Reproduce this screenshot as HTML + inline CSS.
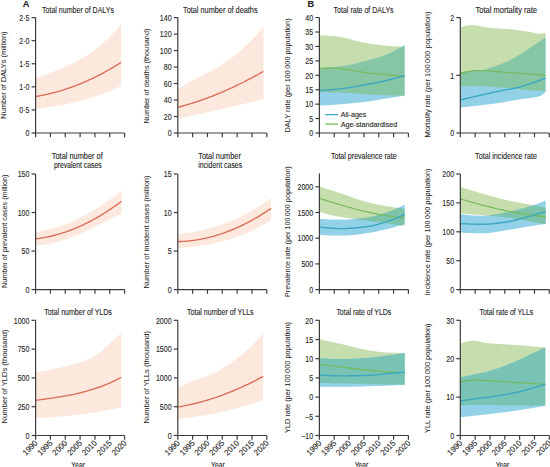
<!DOCTYPE html>
<html><head><meta charset="utf-8"><style>
html,body{margin:0;padding:0;background:#fff;}
body{width:550px;height:467px;overflow:hidden;}
svg{display:block;font-family:"Liberation Sans", sans-serif;}
</style></head><body>
<svg width="550" height="467" viewBox="0 0 550 467">
<rect width="550" height="467" fill="#fff"/>
<path d="M35.6,78.6L36.6,78.2L37.6,77.9L38.6,77.5L39.6,77.1L40.6,76.7L41.6,76.3L42.6,75.9L43.6,75.5L44.6,75.1L45.6,74.8L46.6,74.4L47.6,74.0L48.6,73.6L49.6,73.2L50.6,72.8L51.6,72.4L52.6,72.1L53.6,71.7L54.6,71.3L55.6,70.9L56.6,70.5L57.6,70.1L58.6,69.7L59.6,69.2L60.6,68.8L61.6,68.4L62.6,68.0L63.6,67.6L64.6,67.1L65.6,66.7L66.6,66.2L67.6,65.8L68.6,65.3L69.6,64.8L70.6,64.4L71.6,63.9L72.6,63.4L73.6,62.9L74.6,62.4L75.6,61.9L76.6,61.3L77.6,60.8L78.6,60.3L79.6,59.7L80.6,59.1L81.6,58.6L82.6,58.0L83.6,57.4L84.6,56.8L85.6,56.2L86.6,55.5L87.6,54.9L88.6,54.2L89.6,53.6L90.6,52.9L91.6,52.2L92.6,51.5L93.6,50.7L94.6,50.0L95.6,49.2L96.6,48.5L97.6,47.7L98.6,46.9L99.6,46.1L100.6,45.2L101.6,44.4L102.6,43.5L103.6,42.6L104.6,41.7L105.6,40.8L106.6,39.9L107.6,38.9L108.6,38.0L109.6,37.0L110.6,36.0L111.6,34.9L112.6,33.9L113.6,32.8L114.6,31.7L115.6,30.6L116.6,29.5L117.6,28.3L118.6,27.2L119.6,26.0L120.6,24.7L121.1,24.1L121.1,85.7L120.6,86.0L119.6,86.5L118.6,86.9L117.6,87.4L116.6,87.9L115.6,88.3L114.6,88.8L113.6,89.2L112.6,89.7L111.6,90.1L110.6,90.5L109.6,91.0L108.6,91.4L107.6,91.8L106.6,92.2L105.6,92.6L104.6,93.0L103.6,93.3L102.6,93.7L101.6,94.1L100.6,94.5L99.6,94.8L98.6,95.2L97.6,95.5L96.6,95.9L95.6,96.2L94.6,96.5L93.6,96.8L92.6,97.2L91.6,97.5L90.6,97.8L89.6,98.1L88.6,98.4L87.6,98.7L86.6,99.0L85.6,99.3L84.6,99.6L83.6,99.8L82.6,100.1L81.6,100.4L80.6,100.6L79.6,100.9L78.6,101.1L77.6,101.4L76.6,101.6L75.6,101.9L74.6,102.1L73.6,102.4L72.6,102.6L71.6,102.8L70.6,103.0L69.6,103.3L68.6,103.5L67.6,103.7L66.6,103.9L65.6,104.1L64.6,104.3L63.6,104.5L62.6,104.7L61.6,104.9L60.6,105.1L59.6,105.3L58.6,105.5L57.6,105.6L56.6,105.8L55.6,106.0L54.6,106.2L53.6,106.4L52.6,106.5L51.6,106.7L50.6,106.9L49.6,107.0L48.6,107.2L47.6,107.3L46.6,107.5L45.6,107.7L44.6,107.8L43.6,108.0L42.6,108.1L41.6,108.3L40.6,108.4L39.6,108.6L38.6,108.7L37.6,108.9L36.6,109.0L35.6,109.1Z" fill="#fce8dd"/>
<path d="M35.6,96.5L36.6,96.3L37.6,96.2L38.6,96.0L39.6,95.8L40.6,95.6L41.6,95.4L42.6,95.2L43.6,95.0L44.6,94.8L45.6,94.6L46.6,94.4L47.6,94.2L48.6,94.0L49.6,93.7L50.6,93.5L51.6,93.2L52.6,93.0L53.6,92.7L54.6,92.5L55.6,92.2L56.6,91.9L57.6,91.6L58.6,91.4L59.6,91.1L60.6,90.8L61.6,90.5L62.6,90.2L63.6,89.8L64.6,89.5L65.6,89.2L66.6,88.9L67.6,88.5L68.6,88.2L69.6,87.9L70.6,87.5L71.6,87.1L72.6,86.8L73.6,86.4L74.6,86.0L75.6,85.7L76.6,85.3L77.6,84.9L78.6,84.5L79.6,84.1L80.6,83.7L81.6,83.3L82.6,82.8L83.6,82.4L84.6,82.0L85.6,81.5L86.6,81.1L87.6,80.7L88.6,80.2L89.6,79.7L90.6,79.3L91.6,78.8L92.6,78.3L93.6,77.8L94.6,77.4L95.6,76.9L96.6,76.4L97.6,75.9L98.6,75.4L99.6,74.8L100.6,74.3L101.6,73.8L102.6,73.3L103.6,72.7L104.6,72.2L105.6,71.6L106.6,71.1L107.6,70.5L108.6,70.0L109.6,69.4L110.6,68.8L111.6,68.2L112.6,67.6L113.6,67.0L114.6,66.4L115.6,65.8L116.6,65.2L117.6,64.6L118.6,64.0L119.6,63.4L120.6,62.7L121.1,62.4" fill="none" stroke="#da6d57" stroke-width="1.35"/>
<path d="M177.8,89.5L178.8,88.8L179.8,88.2L180.8,87.5L181.8,86.9L182.8,86.2L183.8,85.6L184.8,84.9L185.8,84.3L186.8,83.7L187.8,83.1L188.8,82.5L189.8,81.9L190.8,81.3L191.8,80.8L192.8,80.2L193.8,79.7L194.8,79.2L195.8,78.6L196.8,78.1L197.8,77.6L198.8,77.1L199.8,76.7L200.8,76.2L201.8,75.7L202.8,75.2L203.8,74.7L204.8,74.2L205.8,73.7L206.8,73.2L207.8,72.7L208.8,72.2L209.8,71.6L210.8,71.1L211.8,70.5L212.8,70.0L213.8,69.4L214.8,68.9L215.8,68.3L216.8,67.7L217.8,67.2L218.8,66.6L219.8,66.0L220.8,65.4L221.8,64.8L222.8,64.1L223.8,63.5L224.8,62.8L225.8,62.2L226.8,61.5L227.8,60.8L228.8,60.1L229.8,59.4L230.8,58.6L231.8,57.9L232.8,57.1L233.8,56.3L234.8,55.6L235.8,54.7L236.8,53.9L237.8,53.1L238.8,52.3L239.8,51.4L240.8,50.5L241.8,49.7L242.8,48.8L243.8,47.9L244.8,47.0L245.8,46.0L246.8,45.1L247.8,44.1L248.8,43.2L249.8,42.2L250.8,41.2L251.8,40.2L252.8,39.1L253.8,38.1L254.8,37.0L255.8,36.0L256.8,34.9L257.8,33.8L258.8,32.7L259.8,31.6L260.8,30.4L261.8,29.3L262.8,28.1L263.5,27.3L263.5,99.1L262.8,99.3L261.8,99.5L260.8,99.8L259.8,100.0L258.8,100.3L257.8,100.5L256.8,100.7L255.8,101.0L254.8,101.2L253.8,101.5L252.8,101.7L251.8,102.0L250.8,102.2L249.8,102.4L248.8,102.7L247.8,102.9L246.8,103.2L245.8,103.4L244.8,103.6L243.8,103.9L242.8,104.1L241.8,104.4L240.8,104.6L239.8,104.8L238.8,105.1L237.8,105.3L236.8,105.5L235.8,105.8L234.8,106.0L233.8,106.2L232.8,106.5L231.8,106.7L230.8,106.9L229.8,107.2L228.8,107.4L227.8,107.6L226.8,107.9L225.8,108.1L224.8,108.3L223.8,108.6L222.8,108.8L221.8,109.0L220.8,109.2L219.8,109.5L218.8,109.7L217.8,109.9L216.8,110.1L215.8,110.4L214.8,110.6L213.8,110.8L212.8,111.0L211.8,111.3L210.8,111.5L209.8,111.7L208.8,111.9L207.8,112.2L206.8,112.4L205.8,112.6L204.8,112.8L203.8,113.0L202.8,113.3L201.8,113.5L200.8,113.7L199.8,113.9L198.8,114.1L197.8,114.4L196.8,114.6L195.8,114.8L194.8,115.0L193.8,115.2L192.8,115.4L191.8,115.6L190.8,115.9L189.8,116.1L188.8,116.3L187.8,116.5L186.8,116.7L185.8,116.9L184.8,117.1L183.8,117.3L182.8,117.6L181.8,117.8L180.8,118.0L179.8,118.2L178.8,118.4L177.8,118.6Z" fill="#fce8dd"/>
<path d="M177.8,107.4L178.8,107.1L179.8,106.8L180.8,106.5L181.8,106.3L182.8,106.0L183.8,105.7L184.8,105.4L185.8,105.1L186.8,104.8L187.8,104.5L188.8,104.2L189.8,103.9L190.8,103.6L191.8,103.3L192.8,103.0L193.8,102.7L194.8,102.3L195.8,102.0L196.8,101.7L197.8,101.4L198.8,101.0L199.8,100.7L200.8,100.3L201.8,100.0L202.8,99.6L203.8,99.3L204.8,98.9L205.8,98.5L206.8,98.2L207.8,97.8L208.8,97.4L209.8,97.0L210.8,96.7L211.8,96.3L212.8,95.9L213.8,95.5L214.8,95.1L215.8,94.7L216.8,94.3L217.8,93.9L218.8,93.5L219.8,93.1L220.8,92.6L221.8,92.2L222.8,91.8L223.8,91.4L224.8,90.9L225.8,90.5L226.8,90.0L227.8,89.6L228.8,89.1L229.8,88.7L230.8,88.2L231.8,87.8L232.8,87.3L233.8,86.8L234.8,86.4L235.8,85.9L236.8,85.4L237.8,84.9L238.8,84.5L239.8,84.0L240.8,83.5L241.8,83.0L242.8,82.5L243.8,82.0L244.8,81.5L245.8,80.9L246.8,80.4L247.8,79.9L248.8,79.4L249.8,78.9L250.8,78.3L251.8,77.8L252.8,77.3L253.8,76.7L254.8,76.2L255.8,75.6L256.8,75.1L257.8,74.5L258.8,74.0L259.8,73.4L260.8,72.8L261.8,72.3L262.8,71.7L263.3,71.4" fill="none" stroke="#da6d57" stroke-width="1.35"/>
<path d="M35.6,231.8L36.6,231.7L37.6,231.6L38.6,231.4L39.6,231.3L40.6,231.1L41.6,231.0L42.6,230.8L43.6,230.6L44.6,230.4L45.6,230.2L46.6,230.0L47.6,229.8L48.6,229.6L49.6,229.3L50.6,229.1L51.6,228.8L52.6,228.6L53.6,228.3L54.6,228.0L55.6,227.7L56.6,227.4L57.6,227.1L58.6,226.8L59.6,226.4L60.6,226.1L61.6,225.7L62.6,225.4L63.6,225.0L64.6,224.6L65.6,224.2L66.6,223.9L67.6,223.5L68.6,223.0L69.6,222.6L70.6,222.2L71.6,221.8L72.6,221.3L73.6,220.9L74.6,220.4L75.6,220.0L76.6,219.5L77.6,219.0L78.6,218.5L79.6,218.0L80.6,217.5L81.6,217.0L82.6,216.5L83.6,215.9L84.6,215.4L85.6,214.9L86.6,214.3L87.6,213.8L88.6,213.2L89.6,212.6L90.6,212.1L91.6,211.5L92.6,210.9L93.6,210.3L94.6,209.7L95.6,209.1L96.6,208.4L97.6,207.8L98.6,207.2L99.6,206.5L100.6,205.9L101.6,205.3L102.6,204.6L103.6,203.9L104.6,203.3L105.6,202.6L106.6,201.9L107.6,201.2L108.6,200.5L109.6,199.8L110.6,199.1L111.6,198.4L112.6,197.7L113.6,197.0L114.6,196.3L115.6,195.5L116.6,194.8L117.6,194.0L118.6,193.3L119.6,192.5L120.6,191.8L121.4,191.2L121.4,213.7L120.6,214.1L119.6,214.6L118.6,215.1L117.6,215.6L116.6,216.1L115.6,216.6L114.6,217.1L113.6,217.6L112.6,218.1L111.6,218.6L110.6,219.1L109.6,219.6L108.6,220.1L107.6,220.6L106.6,221.1L105.6,221.6L104.6,222.1L103.6,222.6L102.6,223.1L101.6,223.6L100.6,224.1L99.6,224.6L98.6,225.1L97.6,225.6L96.6,226.1L95.6,226.6L94.6,227.1L93.6,227.6L92.6,228.0L91.6,228.5L90.6,229.0L89.6,229.4L88.6,229.9L87.6,230.4L86.6,230.8L85.6,231.3L84.6,231.7L83.6,232.2L82.6,232.6L81.6,233.1L80.6,233.5L79.6,233.9L78.6,234.3L77.6,234.7L76.6,235.2L75.6,235.6L74.6,236.0L73.6,236.4L72.6,236.7L71.6,237.1L70.6,237.5L69.6,237.9L68.6,238.2L67.6,238.6L66.6,238.9L65.6,239.3L64.6,239.6L63.6,239.9L62.6,240.3L61.6,240.6L60.6,240.9L59.6,241.2L58.6,241.5L57.6,241.8L56.6,242.0L55.6,242.3L54.6,242.6L53.6,242.8L52.6,243.0L51.6,243.3L50.6,243.5L49.6,243.7L48.6,243.9L47.6,244.1L46.6,244.3L45.6,244.5L44.6,244.6L43.6,244.8L42.6,244.9L41.6,245.0L40.6,245.1L39.6,245.2L38.6,245.3L37.6,245.4L36.6,245.5L35.6,245.6Z" fill="#fce8dd"/>
<path d="M35.6,238.9L36.6,238.7L37.6,238.6L38.6,238.5L39.6,238.3L40.6,238.2L41.6,238.0L42.6,237.8L43.6,237.7L44.6,237.5L45.6,237.3L46.6,237.1L47.6,236.9L48.6,236.7L49.6,236.5L50.6,236.2L51.6,236.0L52.6,235.8L53.6,235.5L54.6,235.3L55.6,235.0L56.6,234.7L57.6,234.4L58.6,234.2L59.6,233.9L60.6,233.6L61.6,233.3L62.6,232.9L63.6,232.6L64.6,232.3L65.6,232.0L66.6,231.6L67.6,231.3L68.6,230.9L69.6,230.5L70.6,230.2L71.6,229.8L72.6,229.4L73.6,229.0L74.6,228.6L75.6,228.2L76.6,227.8L77.6,227.3L78.6,226.9L79.6,226.4L80.6,226.0L81.6,225.5L82.6,225.1L83.6,224.6L84.6,224.1L85.6,223.6L86.6,223.2L87.6,222.7L88.6,222.1L89.6,221.6L90.6,221.1L91.6,220.6L92.6,220.0L93.6,219.5L94.6,218.9L95.6,218.4L96.6,217.8L97.6,217.2L98.6,216.7L99.6,216.1L100.6,215.5L101.6,214.9L102.6,214.3L103.6,213.6L104.6,213.0L105.6,212.4L106.6,211.7L107.6,211.1L108.6,210.4L109.6,209.8L110.6,209.1L111.6,208.4L112.6,207.7L113.6,207.0L114.6,206.3L115.6,205.6L116.6,204.9L117.6,204.2L118.6,203.5L119.6,202.7L120.6,202.0L121.4,201.4" fill="none" stroke="#da6d57" stroke-width="1.35"/>
<path d="M178.0,234.2L179.0,234.1L180.0,233.9L181.0,233.8L182.0,233.7L183.0,233.6L184.0,233.4L185.0,233.3L186.0,233.1L187.0,233.0L188.0,232.8L189.0,232.7L190.0,232.5L191.0,232.3L192.0,232.2L193.0,232.0L194.0,231.8L195.0,231.6L196.0,231.4L197.0,231.2L198.0,231.0L199.0,230.8L200.0,230.6L201.0,230.4L202.0,230.2L203.0,229.9L204.0,229.7L205.0,229.5L206.0,229.2L207.0,229.0L208.0,228.7L209.0,228.4L210.0,228.2L211.0,227.9L212.0,227.6L213.0,227.3L214.0,227.0L215.0,226.7L216.0,226.4L217.0,226.1L218.0,225.8L219.0,225.5L220.0,225.1L221.0,224.8L222.0,224.4L223.0,224.1L224.0,223.7L225.0,223.4L226.0,223.0L227.0,222.6L228.0,222.2L229.0,221.8L230.0,221.4L231.0,221.0L232.0,220.6L233.0,220.2L234.0,219.8L235.0,219.3L236.0,218.9L237.0,218.4L238.0,218.0L239.0,217.5L240.0,217.0L241.0,216.5L242.0,216.0L243.0,215.5L244.0,215.0L245.0,214.5L246.0,214.0L247.0,213.5L248.0,212.9L249.0,212.4L250.0,211.8L251.0,211.3L252.0,210.7L253.0,210.1L254.0,209.5L255.0,208.9L256.0,208.3L257.0,207.7L258.0,207.1L259.0,206.5L260.0,205.8L261.0,205.2L262.0,204.5L263.0,203.8L264.0,203.2L265.0,202.5L266.0,201.8L267.0,201.1L268.0,200.4L269.0,199.6L270.0,198.9L271.0,198.2L271.0,220.0L270.0,220.7L269.0,221.3L268.0,221.9L267.0,222.5L266.0,223.1L265.0,223.7L264.0,224.3L263.0,224.8L262.0,225.4L261.0,226.0L260.0,226.5L259.0,227.0L258.0,227.6L257.0,228.1L256.0,228.6L255.0,229.1L254.0,229.6L253.0,230.1L252.0,230.5L251.0,231.0L250.0,231.5L249.0,231.9L248.0,232.3L247.0,232.8L246.0,233.2L245.0,233.6L244.0,234.0L243.0,234.4L242.0,234.8L241.0,235.2L240.0,235.6L239.0,236.0L238.0,236.4L237.0,236.7L236.0,237.1L235.0,237.4L234.0,237.8L233.0,238.1L232.0,238.4L231.0,238.7L230.0,239.1L229.0,239.4L228.0,239.7L227.0,240.0L226.0,240.2L225.0,240.5L224.0,240.8L223.0,241.1L222.0,241.3L221.0,241.6L220.0,241.8L219.0,242.1L218.0,242.3L217.0,242.6L216.0,242.8L215.0,243.0L214.0,243.2L213.0,243.5L212.0,243.7L211.0,243.9L210.0,244.1L209.0,244.3L208.0,244.5L207.0,244.6L206.0,244.8L205.0,245.0L204.0,245.2L203.0,245.3L202.0,245.5L201.0,245.6L200.0,245.8L199.0,245.9L198.0,246.1L197.0,246.2L196.0,246.4L195.0,246.5L194.0,246.6L193.0,246.7L192.0,246.9L191.0,247.0L190.0,247.1L189.0,247.2L188.0,247.3L187.0,247.4L186.0,247.5L185.0,247.6L184.0,247.7L183.0,247.8L182.0,247.9L181.0,248.0L180.0,248.1L179.0,248.1L178.0,248.2Z" fill="#fce8dd"/>
<path d="M178.0,241.6L179.0,241.6L180.0,241.5L181.0,241.5L182.0,241.4L183.0,241.4L184.0,241.3L185.0,241.3L186.0,241.2L187.0,241.1L188.0,241.0L189.0,240.9L190.0,240.8L191.0,240.7L192.0,240.6L193.0,240.4L194.0,240.3L195.0,240.1L196.0,240.0L197.0,239.8L198.0,239.7L199.0,239.5L200.0,239.3L201.0,239.1L202.0,238.9L203.0,238.7L204.0,238.5L205.0,238.3L206.0,238.1L207.0,237.9L208.0,237.6L209.0,237.4L210.0,237.1L211.0,236.9L212.0,236.6L213.0,236.4L214.0,236.1L215.0,235.8L216.0,235.5L217.0,235.2L218.0,234.9L219.0,234.6L220.0,234.3L221.0,233.9L222.0,233.6L223.0,233.2L224.0,232.9L225.0,232.5L226.0,232.2L227.0,231.8L228.0,231.4L229.0,231.0L230.0,230.6L231.0,230.2L232.0,229.8L233.0,229.4L234.0,229.0L235.0,228.6L236.0,228.1L237.0,227.7L238.0,227.2L239.0,226.8L240.0,226.3L241.0,225.9L242.0,225.4L243.0,224.9L244.0,224.4L245.0,223.9L246.0,223.4L247.0,222.9L248.0,222.4L249.0,221.8L250.0,221.3L251.0,220.8L252.0,220.2L253.0,219.6L254.0,219.1L255.0,218.5L256.0,217.9L257.0,217.4L258.0,216.8L259.0,216.2L260.0,215.6L261.0,214.9L262.0,214.3L263.0,213.7L264.0,213.1L265.0,212.4L266.0,211.8L267.0,211.1L268.0,210.5L269.0,209.8L270.0,209.1L271.0,208.4" fill="none" stroke="#da6d57" stroke-width="1.35"/>
<path d="M35.6,372.5L36.6,372.3L37.6,372.2L38.6,372.0L39.6,371.8L40.6,371.6L41.6,371.5L42.6,371.3L43.6,371.1L44.6,370.9L45.6,370.7L46.6,370.5L47.6,370.3L48.6,370.1L49.6,369.9L50.6,369.7L51.6,369.5L52.6,369.3L53.6,369.1L54.6,368.9L55.6,368.6L56.6,368.4L57.6,368.2L58.6,368.0L59.6,367.7L60.6,367.5L61.6,367.3L62.6,367.0L63.6,366.8L64.6,366.6L65.6,366.3L66.6,366.1L67.6,365.8L68.6,365.5L69.6,365.3L70.6,365.0L71.6,364.7L72.6,364.4L73.6,364.2L74.6,363.9L75.6,363.6L76.6,363.3L77.6,363.0L78.6,362.6L79.6,362.3L80.6,362.0L81.6,361.7L82.6,361.4L83.6,361.0L84.6,360.7L85.6,360.3L86.6,359.9L87.6,359.5L88.6,359.1L89.6,358.7L90.6,358.2L91.6,357.7L92.6,357.3L93.6,356.7L94.6,356.1L95.6,355.5L96.6,354.8L97.6,354.1L98.6,353.3L99.6,352.5L100.6,351.7L101.6,350.8L102.6,349.9L103.6,349.1L104.6,348.2L105.6,347.3L106.6,346.4L107.6,345.6L108.6,344.7L109.6,343.8L110.6,343.0L111.6,342.1L112.6,341.2L113.6,340.3L114.6,339.3L115.6,338.4L116.6,337.5L117.6,336.5L118.6,335.5L119.6,334.6L120.6,333.6L121.1,333.1L121.1,407.4L120.6,407.5L119.6,407.8L118.6,408.0L117.6,408.2L116.6,408.4L115.6,408.6L114.6,408.8L113.6,409.0L112.6,409.2L111.6,409.4L110.6,409.6L109.6,409.8L108.6,410.0L107.6,410.2L106.6,410.4L105.6,410.6L104.6,410.8L103.6,410.9L102.6,411.1L101.6,411.3L100.6,411.5L99.6,411.6L98.6,411.8L97.6,412.0L96.6,412.1L95.6,412.3L94.6,412.4L93.6,412.6L92.6,412.7L91.6,412.9L90.6,413.0L89.6,413.2L88.6,413.3L87.6,413.5L86.6,413.6L85.6,413.7L84.6,413.9L83.6,414.0L82.6,414.1L81.6,414.3L80.6,414.4L79.6,414.5L78.6,414.6L77.6,414.7L76.6,414.9L75.6,415.0L74.6,415.1L73.6,415.2L72.6,415.3L71.6,415.4L70.6,415.5L69.6,415.6L68.6,415.7L67.6,415.8L66.6,415.9L65.6,416.0L64.6,416.1L63.6,416.2L62.6,416.3L61.6,416.4L60.6,416.5L59.6,416.5L58.6,416.6L57.6,416.7L56.6,416.8L55.6,416.9L54.6,416.9L53.6,417.0L52.6,417.1L51.6,417.2L50.6,417.2L49.6,417.3L48.6,417.4L47.6,417.4L46.6,417.5L45.6,417.6L44.6,417.6L43.6,417.7L42.6,417.7L41.6,417.8L40.6,417.9L39.6,417.9L38.6,418.0L37.6,418.0L36.6,418.1L35.6,418.1Z" fill="#fce8dd"/>
<path d="M35.6,400.3L36.6,400.2L37.6,400.1L38.6,399.9L39.6,399.8L40.6,399.7L41.6,399.5L42.6,399.4L43.6,399.3L44.6,399.1L45.6,399.0L46.6,398.9L47.6,398.7L48.6,398.6L49.6,398.4L50.6,398.3L51.6,398.1L52.6,398.0L53.6,397.8L54.6,397.7L55.6,397.5L56.6,397.4L57.6,397.2L58.6,397.0L59.6,396.9L60.6,396.7L61.6,396.6L62.6,396.4L63.6,396.2L64.6,396.1L65.6,395.9L66.6,395.7L67.6,395.5L68.6,395.3L69.6,395.2L70.6,395.0L71.6,394.8L72.6,394.6L73.6,394.4L74.6,394.2L75.6,393.9L76.6,393.7L77.6,393.5L78.6,393.3L79.6,393.0L80.6,392.8L81.6,392.5L82.6,392.2L83.6,392.0L84.6,391.7L85.6,391.4L86.6,391.1L87.6,390.8L88.6,390.5L89.6,390.2L90.6,389.9L91.6,389.6L92.6,389.3L93.6,389.0L94.6,388.7L95.6,388.3L96.6,388.0L97.6,387.7L98.6,387.3L99.6,387.0L100.6,386.6L101.6,386.3L102.6,385.9L103.6,385.5L104.6,385.1L105.6,384.7L106.6,384.3L107.6,383.9L108.6,383.5L109.6,383.1L110.6,382.6L111.6,382.2L112.6,381.7L113.6,381.2L114.6,380.8L115.6,380.3L116.6,379.8L117.6,379.3L118.6,378.7L119.6,378.2L120.6,377.7L121.1,377.4" fill="none" stroke="#da6d57" stroke-width="1.35"/>
<path d="M177.8,388.1L178.8,387.5L179.8,387.0L180.8,386.4L181.8,385.9L182.8,385.4L183.8,384.8L184.8,384.3L185.8,383.9L186.8,383.4L187.8,382.9L188.8,382.5L189.8,382.0L190.8,381.6L191.8,381.2L192.8,380.8L193.8,380.5L194.8,380.1L195.8,379.8L196.8,379.5L197.8,379.2L198.8,378.9L199.8,378.7L200.8,378.4L201.8,378.1L202.8,377.8L203.8,377.5L204.8,377.1L205.8,376.8L206.8,376.4L207.8,376.0L208.8,375.6L209.8,375.2L210.8,374.7L211.8,374.2L212.8,373.8L213.8,373.3L214.8,372.7L215.8,372.2L216.8,371.7L217.8,371.1L218.8,370.6L219.8,370.0L220.8,369.4L221.8,368.8L222.8,368.2L223.8,367.6L224.8,367.0L225.8,366.3L226.8,365.7L227.8,365.1L228.8,364.4L229.8,363.7L230.8,363.1L231.8,362.4L232.8,361.7L233.8,360.9L234.8,360.2L235.8,359.4L236.8,358.7L237.8,357.9L238.8,357.1L239.8,356.3L240.8,355.5L241.8,354.6L242.8,353.8L243.8,352.9L244.8,352.1L245.8,351.2L246.8,350.3L247.8,349.4L248.8,348.5L249.8,347.6L250.8,346.7L251.8,345.7L252.8,344.7L253.8,343.7L254.8,342.7L255.8,341.7L256.8,340.6L257.8,339.5L258.8,338.4L259.8,337.3L260.8,336.2L261.8,335.1L262.8,333.9L263.1,333.6L263.1,400.0L262.8,400.1L261.8,400.4L260.8,400.8L259.8,401.1L258.8,401.5L257.8,401.8L256.8,402.2L255.8,402.5L254.8,402.8L253.8,403.2L252.8,403.5L251.8,403.8L250.8,404.1L249.8,404.5L248.8,404.8L247.8,405.1L246.8,405.4L245.8,405.7L244.8,406.0L243.8,406.3L242.8,406.6L241.8,406.8L240.8,407.1L239.8,407.4L238.8,407.7L237.8,408.0L236.8,408.2L235.8,408.5L234.8,408.8L233.8,409.0L232.8,409.3L231.8,409.5L230.8,409.8L229.8,410.0L228.8,410.3L227.8,410.5L226.8,410.8L225.8,411.0L224.8,411.2L223.8,411.5L222.8,411.7L221.8,411.9L220.8,412.1L219.8,412.4L218.8,412.6L217.8,412.8L216.8,413.0L215.8,413.2L214.8,413.4L213.8,413.6L212.8,413.8L211.8,414.0L210.8,414.2L209.8,414.4L208.8,414.6L207.8,414.8L206.8,414.9L205.8,415.1L204.8,415.3L203.8,415.5L202.8,415.6L201.8,415.8L200.8,416.0L199.8,416.1L198.8,416.3L197.8,416.5L196.8,416.6L195.8,416.8L194.8,416.9L193.8,417.1L192.8,417.2L191.8,417.4L190.8,417.5L189.8,417.6L188.8,417.8L187.8,417.9L186.8,418.0L185.8,418.2L184.8,418.3L183.8,418.4L182.8,418.6L181.8,418.7L180.8,418.8L179.8,418.9L178.8,419.0L177.8,419.1Z" fill="#fce8dd"/>
<path d="M177.8,407.0L178.8,406.8L179.8,406.7L180.8,406.5L181.8,406.3L182.8,406.1L183.8,405.9L184.8,405.7L185.8,405.5L186.8,405.3L187.8,405.1L188.8,404.9L189.8,404.7L190.8,404.5L191.8,404.2L192.8,404.0L193.8,403.8L194.8,403.5L195.8,403.3L196.8,403.0L197.8,402.8L198.8,402.5L199.8,402.3L200.8,402.0L201.8,401.7L202.8,401.4L203.8,401.2L204.8,400.9L205.8,400.6L206.8,400.3L207.8,400.0L208.8,399.7L209.8,399.4L210.8,399.1L211.8,398.7L212.8,398.4L213.8,398.1L214.8,397.8L215.8,397.4L216.8,397.1L217.8,396.7L218.8,396.4L219.8,396.0L220.8,395.7L221.8,395.3L222.8,394.9L223.8,394.6L224.8,394.2L225.8,393.8L226.8,393.4L227.8,393.0L228.8,392.6L229.8,392.2L230.8,391.8L231.8,391.4L232.8,391.0L233.8,390.6L234.8,390.2L235.8,389.7L236.8,389.3L237.8,388.9L238.8,388.4L239.8,388.0L240.8,387.5L241.8,387.1L242.8,386.6L243.8,386.2L244.8,385.7L245.8,385.2L246.8,384.7L247.8,384.3L248.8,383.8L249.8,383.3L250.8,382.8L251.8,382.3L252.8,381.8L253.8,381.3L254.8,380.8L255.8,380.3L256.8,379.7L257.8,379.2L258.8,378.7L259.8,378.1L260.8,377.6L261.8,377.1L262.8,376.5L263.1,376.3" fill="none" stroke="#da6d57" stroke-width="1.35"/>
<path d="M319.4,35.4L320.4,35.4L321.4,35.4L322.4,35.4L323.4,35.5L324.4,35.5L325.4,35.5L326.4,35.6L327.4,35.6L328.4,35.7L329.4,35.7L330.4,35.8L331.4,35.8L332.4,35.9L333.4,35.9L334.4,36.0L335.4,36.1L336.4,36.2L337.4,36.4L338.4,36.5L339.4,36.7L340.4,36.9L341.4,37.1L342.4,37.3L343.4,37.6L344.4,37.8L345.4,38.0L346.4,38.3L347.4,38.6L348.4,38.8L349.4,39.1L350.4,39.4L351.4,39.6L352.4,39.9L353.4,40.2L354.4,40.4L355.4,40.7L356.4,40.9L357.4,41.1L358.4,41.4L359.4,41.6L360.4,41.8L361.4,42.0L362.4,42.2L363.4,42.4L364.4,42.5L365.4,42.7L366.4,42.9L367.4,43.1L368.4,43.3L369.4,43.5L370.4,43.7L371.4,43.8L372.4,44.0L373.4,44.2L374.4,44.3L375.4,44.5L376.4,44.6L377.4,44.7L378.4,44.8L379.4,44.9L380.4,45.0L381.4,45.2L382.4,45.3L383.4,45.4L384.4,45.5L385.4,45.6L386.4,45.7L387.4,45.8L388.4,45.9L389.4,46.0L390.4,46.1L391.4,46.1L392.4,46.2L393.4,46.3L394.4,46.3L395.4,46.4L396.4,46.4L397.4,46.5L398.4,46.5L399.4,46.5L400.4,46.5L401.4,46.5L402.4,46.5L403.4,46.5L404.4,46.5L404.6,46.5L404.6,95.6L404.4,95.6L403.4,95.6L402.4,95.6L401.4,95.6L400.4,95.5L399.4,95.5L398.4,95.5L397.4,95.5L396.4,95.5L395.4,95.4L394.4,95.4L393.4,95.4L392.4,95.4L391.4,95.3L390.4,95.3L389.4,95.3L388.4,95.3L387.4,95.2L386.4,95.2L385.4,95.2L384.4,95.1L383.4,95.1L382.4,95.1L381.4,95.0L380.4,95.0L379.4,94.9L378.4,94.9L377.4,94.9L376.4,94.8L375.4,94.8L374.4,94.7L373.4,94.7L372.4,94.6L371.4,94.5L370.4,94.5L369.4,94.4L368.4,94.4L367.4,94.3L366.4,94.3L365.4,94.2L364.4,94.1L363.4,94.1L362.4,94.0L361.4,93.9L360.4,93.8L359.4,93.7L358.4,93.7L357.4,93.6L356.4,93.5L355.4,93.4L354.4,93.3L353.4,93.2L352.4,93.2L351.4,93.1L350.4,93.0L349.4,92.9L348.4,92.9L347.4,92.8L346.4,92.7L345.4,92.7L344.4,92.7L343.4,92.6L342.4,92.6L341.4,92.6L340.4,92.6L339.4,92.5L338.4,92.5L337.4,92.5L336.4,92.5L335.4,92.5L334.4,92.4L333.4,92.4L332.4,92.4L331.4,92.4L330.4,92.4L329.4,92.4L328.4,92.4L327.4,92.3L326.4,92.3L325.4,92.3L324.4,92.3L323.4,92.3L322.4,92.3L321.4,92.3L320.4,92.3L319.4,92.3Z" fill="#c6deae"/>
<path d="M319.4,68.1L320.4,68.1L321.4,68.0L322.4,68.0L323.4,68.0L324.4,67.9L325.4,67.8L326.4,67.8L327.4,67.7L328.4,67.6L329.4,67.5L330.4,67.4L331.4,67.4L332.4,67.3L333.4,67.2L334.4,67.0L335.4,66.9L336.4,66.8L337.4,66.7L338.4,66.6L339.4,66.5L340.4,66.4L341.4,66.2L342.4,66.1L343.4,66.0L344.4,65.8L345.4,65.7L346.4,65.5L347.4,65.4L348.4,65.2L349.4,65.0L350.4,64.8L351.4,64.6L352.4,64.3L353.4,64.1L354.4,63.9L355.4,63.6L356.4,63.4L357.4,63.2L358.4,62.9L359.4,62.7L360.4,62.4L361.4,62.1L362.4,61.9L363.4,61.6L364.4,61.4L365.4,61.1L366.4,60.9L367.4,60.6L368.4,60.3L369.4,60.1L370.4,59.8L371.4,59.6L372.4,59.3L373.4,59.0L374.4,58.7L375.4,58.4L376.4,58.2L377.4,57.9L378.4,57.5L379.4,57.2L380.4,56.9L381.4,56.6L382.4,56.2L383.4,55.8L384.4,55.5L385.4,55.1L386.4,54.7L387.4,54.2L388.4,53.8L389.4,53.3L390.4,52.9L391.4,52.4L392.4,51.9L393.4,51.4L394.4,50.9L395.4,50.3L396.4,49.8L397.4,49.2L398.4,48.7L399.4,48.1L400.4,47.5L401.4,46.9L402.4,46.3L403.4,45.7L404.4,45.0L404.6,44.9L404.6,95.6L404.4,95.6L403.4,95.8L402.4,95.9L401.4,96.1L400.4,96.2L399.4,96.4L398.4,96.6L397.4,96.7L396.4,96.9L395.4,97.0L394.4,97.2L393.4,97.3L392.4,97.5L391.4,97.7L390.4,97.8L389.4,98.0L388.4,98.1L387.4,98.3L386.4,98.4L385.4,98.6L384.4,98.8L383.4,98.9L382.4,99.1L381.4,99.3L380.4,99.5L379.4,99.6L378.4,99.8L377.4,100.0L376.4,100.2L375.4,100.3L374.4,100.5L373.4,100.7L372.4,100.8L371.4,101.0L370.4,101.1L369.4,101.3L368.4,101.4L367.4,101.5L366.4,101.7L365.4,101.8L364.4,101.9L363.4,102.0L362.4,102.2L361.4,102.3L360.4,102.4L359.4,102.5L358.4,102.6L357.4,102.7L356.4,102.8L355.4,102.9L354.4,103.0L353.4,103.1L352.4,103.2L351.4,103.3L350.4,103.4L349.4,103.5L348.4,103.6L347.4,103.7L346.4,103.8L345.4,103.9L344.4,103.9L343.4,104.0L342.4,104.1L341.4,104.2L340.4,104.3L339.4,104.4L338.4,104.4L337.4,104.5L336.4,104.6L335.4,104.7L334.4,104.7L333.4,104.8L332.4,104.9L331.4,105.0L330.4,105.0L329.4,105.1L328.4,105.2L327.4,105.2L326.4,105.3L325.4,105.4L324.4,105.4L323.4,105.5L322.4,105.5L321.4,105.6L320.4,105.6L319.4,105.7Z" fill="#92d1e7"/>
<clipPath id="c14"><path d="M319.4,35.4L320.4,35.4L321.4,35.4L322.4,35.4L323.4,35.5L324.4,35.5L325.4,35.5L326.4,35.6L327.4,35.6L328.4,35.7L329.4,35.7L330.4,35.8L331.4,35.8L332.4,35.9L333.4,35.9L334.4,36.0L335.4,36.1L336.4,36.2L337.4,36.4L338.4,36.5L339.4,36.7L340.4,36.9L341.4,37.1L342.4,37.3L343.4,37.6L344.4,37.8L345.4,38.0L346.4,38.3L347.4,38.6L348.4,38.8L349.4,39.1L350.4,39.4L351.4,39.6L352.4,39.9L353.4,40.2L354.4,40.4L355.4,40.7L356.4,40.9L357.4,41.1L358.4,41.4L359.4,41.6L360.4,41.8L361.4,42.0L362.4,42.2L363.4,42.4L364.4,42.5L365.4,42.7L366.4,42.9L367.4,43.1L368.4,43.3L369.4,43.5L370.4,43.7L371.4,43.8L372.4,44.0L373.4,44.2L374.4,44.3L375.4,44.5L376.4,44.6L377.4,44.7L378.4,44.8L379.4,44.9L380.4,45.0L381.4,45.2L382.4,45.3L383.4,45.4L384.4,45.5L385.4,45.6L386.4,45.7L387.4,45.8L388.4,45.9L389.4,46.0L390.4,46.1L391.4,46.1L392.4,46.2L393.4,46.3L394.4,46.3L395.4,46.4L396.4,46.4L397.4,46.5L398.4,46.5L399.4,46.5L400.4,46.5L401.4,46.5L402.4,46.5L403.4,46.5L404.4,46.5L404.6,46.5L404.6,95.6L404.4,95.6L403.4,95.6L402.4,95.6L401.4,95.6L400.4,95.5L399.4,95.5L398.4,95.5L397.4,95.5L396.4,95.5L395.4,95.4L394.4,95.4L393.4,95.4L392.4,95.4L391.4,95.3L390.4,95.3L389.4,95.3L388.4,95.3L387.4,95.2L386.4,95.2L385.4,95.2L384.4,95.1L383.4,95.1L382.4,95.1L381.4,95.0L380.4,95.0L379.4,94.9L378.4,94.9L377.4,94.9L376.4,94.8L375.4,94.8L374.4,94.7L373.4,94.7L372.4,94.6L371.4,94.5L370.4,94.5L369.4,94.4L368.4,94.4L367.4,94.3L366.4,94.3L365.4,94.2L364.4,94.1L363.4,94.1L362.4,94.0L361.4,93.9L360.4,93.8L359.4,93.7L358.4,93.7L357.4,93.6L356.4,93.5L355.4,93.4L354.4,93.3L353.4,93.2L352.4,93.2L351.4,93.1L350.4,93.0L349.4,92.9L348.4,92.9L347.4,92.8L346.4,92.7L345.4,92.7L344.4,92.7L343.4,92.6L342.4,92.6L341.4,92.6L340.4,92.6L339.4,92.5L338.4,92.5L337.4,92.5L336.4,92.5L335.4,92.5L334.4,92.4L333.4,92.4L332.4,92.4L331.4,92.4L330.4,92.4L329.4,92.4L328.4,92.4L327.4,92.3L326.4,92.3L325.4,92.3L324.4,92.3L323.4,92.3L322.4,92.3L321.4,92.3L320.4,92.3L319.4,92.3Z"/></clipPath>
<path d="M319.4,68.1L320.4,68.1L321.4,68.0L322.4,68.0L323.4,68.0L324.4,67.9L325.4,67.8L326.4,67.8L327.4,67.7L328.4,67.6L329.4,67.5L330.4,67.4L331.4,67.4L332.4,67.3L333.4,67.2L334.4,67.0L335.4,66.9L336.4,66.8L337.4,66.7L338.4,66.6L339.4,66.5L340.4,66.4L341.4,66.2L342.4,66.1L343.4,66.0L344.4,65.8L345.4,65.7L346.4,65.5L347.4,65.4L348.4,65.2L349.4,65.0L350.4,64.8L351.4,64.6L352.4,64.3L353.4,64.1L354.4,63.9L355.4,63.6L356.4,63.4L357.4,63.2L358.4,62.9L359.4,62.7L360.4,62.4L361.4,62.1L362.4,61.9L363.4,61.6L364.4,61.4L365.4,61.1L366.4,60.9L367.4,60.6L368.4,60.3L369.4,60.1L370.4,59.8L371.4,59.6L372.4,59.3L373.4,59.0L374.4,58.7L375.4,58.4L376.4,58.2L377.4,57.9L378.4,57.5L379.4,57.2L380.4,56.9L381.4,56.6L382.4,56.2L383.4,55.8L384.4,55.5L385.4,55.1L386.4,54.7L387.4,54.2L388.4,53.8L389.4,53.3L390.4,52.9L391.4,52.4L392.4,51.9L393.4,51.4L394.4,50.9L395.4,50.3L396.4,49.8L397.4,49.2L398.4,48.7L399.4,48.1L400.4,47.5L401.4,46.9L402.4,46.3L403.4,45.7L404.4,45.0L404.6,44.9L404.6,95.6L404.4,95.6L403.4,95.8L402.4,95.9L401.4,96.1L400.4,96.2L399.4,96.4L398.4,96.6L397.4,96.7L396.4,96.9L395.4,97.0L394.4,97.2L393.4,97.3L392.4,97.5L391.4,97.7L390.4,97.8L389.4,98.0L388.4,98.1L387.4,98.3L386.4,98.4L385.4,98.6L384.4,98.8L383.4,98.9L382.4,99.1L381.4,99.3L380.4,99.5L379.4,99.6L378.4,99.8L377.4,100.0L376.4,100.2L375.4,100.3L374.4,100.5L373.4,100.7L372.4,100.8L371.4,101.0L370.4,101.1L369.4,101.3L368.4,101.4L367.4,101.5L366.4,101.7L365.4,101.8L364.4,101.9L363.4,102.0L362.4,102.2L361.4,102.3L360.4,102.4L359.4,102.5L358.4,102.6L357.4,102.7L356.4,102.8L355.4,102.9L354.4,103.0L353.4,103.1L352.4,103.2L351.4,103.3L350.4,103.4L349.4,103.5L348.4,103.6L347.4,103.7L346.4,103.8L345.4,103.9L344.4,103.9L343.4,104.0L342.4,104.1L341.4,104.2L340.4,104.3L339.4,104.4L338.4,104.4L337.4,104.5L336.4,104.6L335.4,104.7L334.4,104.7L333.4,104.8L332.4,104.9L331.4,105.0L330.4,105.0L329.4,105.1L328.4,105.2L327.4,105.2L326.4,105.3L325.4,105.4L324.4,105.4L323.4,105.5L322.4,105.5L321.4,105.6L320.4,105.6L319.4,105.7Z" fill="#86c6a5" clip-path="url(#c14)"/>
<path d="M319.4,68.6L320.4,68.5L321.4,68.4L322.4,68.4L323.4,68.3L324.4,68.3L325.4,68.2L326.4,68.2L327.4,68.1L328.4,68.1L329.4,68.1L330.4,68.1L331.4,68.1L332.4,68.1L333.4,68.1L334.4,68.2L335.4,68.2L336.4,68.3L337.4,68.4L338.4,68.5L339.4,68.6L340.4,68.7L341.4,68.8L342.4,68.9L343.4,69.1L344.4,69.2L345.4,69.3L346.4,69.5L347.4,69.6L348.4,69.8L349.4,70.0L350.4,70.1L351.4,70.3L352.4,70.5L353.4,70.6L354.4,70.8L355.4,71.0L356.4,71.2L357.4,71.3L358.4,71.5L359.4,71.7L360.4,71.8L361.4,72.0L362.4,72.1L363.4,72.3L364.4,72.4L365.4,72.5L366.4,72.6L367.4,72.7L368.4,72.9L369.4,73.0L370.4,73.1L371.4,73.2L372.4,73.3L373.4,73.4L374.4,73.5L375.4,73.6L376.4,73.7L377.4,73.8L378.4,73.9L379.4,74.0L380.4,74.1L381.4,74.2L382.4,74.3L383.4,74.4L384.4,74.5L385.4,74.6L386.4,74.7L387.4,74.8L388.4,74.9L389.4,75.0L390.4,75.1L391.4,75.2L392.4,75.3L393.4,75.4L394.4,75.4L395.4,75.5L396.4,75.6L397.4,75.7L398.4,75.8L399.4,75.9L400.4,76.0L401.4,76.0L402.4,76.1L403.4,76.2L404.4,76.3L404.6,76.3" fill="none" stroke="#76b95a" stroke-width="1.2"/>
<path d="M319.4,90.7L320.4,90.6L321.4,90.6L322.4,90.5L323.4,90.4L324.4,90.3L325.4,90.3L326.4,90.2L327.4,90.1L328.4,90.0L329.4,89.9L330.4,89.8L331.4,89.7L332.4,89.6L333.4,89.5L334.4,89.4L335.4,89.3L336.4,89.2L337.4,89.1L338.4,89.0L339.4,88.9L340.4,88.7L341.4,88.6L342.4,88.5L343.4,88.4L344.4,88.3L345.4,88.1L346.4,88.0L347.4,87.9L348.4,87.7L349.4,87.6L350.4,87.4L351.4,87.2L352.4,87.1L353.4,86.9L354.4,86.8L355.4,86.6L356.4,86.4L357.4,86.2L358.4,86.1L359.4,85.9L360.4,85.7L361.4,85.5L362.4,85.3L363.4,85.2L364.4,85.0L365.4,84.8L366.4,84.6L367.4,84.4L368.4,84.2L369.4,84.1L370.4,83.9L371.4,83.7L372.4,83.5L373.4,83.3L374.4,83.1L375.4,82.9L376.4,82.7L377.4,82.5L378.4,82.3L379.4,82.0L380.4,81.8L381.4,81.6L382.4,81.4L383.4,81.2L384.4,80.9L385.4,80.7L386.4,80.5L387.4,80.2L388.4,80.0L389.4,79.7L390.4,79.5L391.4,79.2L392.4,79.0L393.4,78.7L394.4,78.4L395.4,78.2L396.4,77.9L397.4,77.6L398.4,77.3L399.4,77.0L400.4,76.8L401.4,76.5L402.4,76.2L403.4,75.9L404.4,75.6L404.6,75.5" fill="none" stroke="#3ca7c2" stroke-width="1.4"/>
<path d="M460.3,27.7L461.3,27.3L462.3,27.0L463.3,26.7L464.3,26.3L465.3,26.1L466.3,25.8L467.3,25.6L468.3,25.4L469.3,25.3L470.3,25.2L471.3,25.1L472.3,25.1L473.3,25.1L474.3,25.2L475.3,25.3L476.3,25.4L477.3,25.6L478.3,25.8L479.3,26.0L480.3,26.2L481.3,26.4L482.3,26.6L483.3,26.8L484.3,27.0L485.3,27.2L486.3,27.4L487.3,27.6L488.3,27.7L489.3,27.8L490.3,27.9L491.3,28.0L492.3,28.0L493.3,28.1L494.3,28.2L495.3,28.3L496.3,28.3L497.3,28.4L498.3,28.4L499.3,28.5L500.3,28.6L501.3,28.6L502.3,28.7L503.3,28.8L504.3,28.8L505.3,28.9L506.3,29.0L507.3,29.1L508.3,29.1L509.3,29.2L510.3,29.3L511.3,29.4L512.3,29.5L513.3,29.6L514.3,29.8L515.3,29.9L516.3,30.0L517.3,30.1L518.3,30.2L519.3,30.4L520.3,30.5L521.3,30.6L522.3,30.8L523.3,30.9L524.3,31.1L525.3,31.2L526.3,31.4L527.3,31.5L528.3,31.7L529.3,31.8L530.3,32.0L531.3,32.2L532.3,32.5L533.3,32.7L534.3,33.0L535.3,33.2L536.3,33.5L537.3,33.6L538.3,33.8L539.3,33.8L540.3,33.8L541.3,33.7L542.3,33.5L543.3,33.3L544.3,33.0L545.3,32.7L545.5,32.6L545.5,91.2L545.3,91.2L544.3,91.1L543.3,91.1L542.3,91.0L541.3,91.0L540.3,90.9L539.3,90.9L538.3,90.8L537.3,90.8L536.3,90.7L535.3,90.6L534.3,90.6L533.3,90.5L532.3,90.4L531.3,90.4L530.3,90.3L529.3,90.2L528.3,90.1L527.3,90.0L526.3,90.0L525.3,89.9L524.3,89.8L523.3,89.7L522.3,89.6L521.3,89.5L520.3,89.3L519.3,89.2L518.3,89.1L517.3,89.0L516.3,88.9L515.3,88.8L514.3,88.7L513.3,88.6L512.3,88.5L511.3,88.4L510.3,88.3L509.3,88.2L508.3,88.2L507.3,88.1L506.3,88.0L505.3,87.9L504.3,87.8L503.3,87.7L502.3,87.6L501.3,87.5L500.3,87.5L499.3,87.4L498.3,87.3L497.3,87.2L496.3,87.1L495.3,87.0L494.3,86.9L493.3,86.9L492.3,86.8L491.3,86.7L490.3,86.6L489.3,86.6L488.3,86.5L487.3,86.5L486.3,86.4L485.3,86.4L484.3,86.3L483.3,86.3L482.3,86.3L481.3,86.2L480.3,86.2L479.3,86.2L478.3,86.2L477.3,86.2L476.3,86.2L475.3,86.2L474.3,86.2L473.3,86.2L472.3,86.2L471.3,86.2L470.3,86.2L469.3,86.2L468.3,86.2L467.3,86.2L466.3,86.2L465.3,86.2L464.3,86.2L463.3,86.2L462.3,86.2L461.3,86.2L460.3,86.2Z" fill="#c6deae"/>
<path d="M460.3,71.9L461.3,71.9L462.3,71.9L463.3,71.9L464.3,71.8L465.3,71.8L466.3,71.8L467.3,71.7L468.3,71.7L469.3,71.6L470.3,71.6L471.3,71.5L472.3,71.4L473.3,71.3L474.3,71.3L475.3,71.2L476.3,71.1L477.3,71.0L478.3,70.9L479.3,70.8L480.3,70.6L481.3,70.4L482.3,70.2L483.3,69.9L484.3,69.7L485.3,69.4L486.3,69.1L487.3,68.8L488.3,68.5L489.3,68.2L490.3,67.9L491.3,67.5L492.3,67.2L493.3,66.9L494.3,66.6L495.3,66.2L496.3,65.9L497.3,65.5L498.3,65.1L499.3,64.8L500.3,64.4L501.3,64.0L502.3,63.6L503.3,63.2L504.3,62.7L505.3,62.3L506.3,61.9L507.3,61.4L508.3,61.0L509.3,60.5L510.3,60.0L511.3,59.5L512.3,59.0L513.3,58.5L514.3,57.9L515.3,57.3L516.3,56.7L517.3,56.1L518.3,55.5L519.3,54.9L520.3,54.3L521.3,53.6L522.3,53.0L523.3,52.3L524.3,51.7L525.3,51.0L526.3,50.4L527.3,49.7L528.3,49.1L529.3,48.4L530.3,47.8L531.3,47.1L532.3,46.5L533.3,45.8L534.3,45.1L535.3,44.5L536.3,43.8L537.3,43.1L538.3,42.4L539.3,41.7L540.3,41.0L541.3,40.3L542.3,39.6L543.3,38.9L544.3,38.2L545.3,37.4L545.5,37.3L545.5,92.3L545.3,92.5L544.3,93.2L543.3,94.0L542.3,94.8L541.3,95.4L540.3,96.0L539.3,96.3L538.3,96.6L537.3,96.8L536.3,97.0L535.3,97.2L534.3,97.4L533.3,97.6L532.3,97.7L531.3,97.9L530.3,98.0L529.3,98.1L528.3,98.3L527.3,98.4L526.3,98.5L525.3,98.6L524.3,98.7L523.3,98.8L522.3,98.9L521.3,99.1L520.3,99.2L519.3,99.4L518.3,99.5L517.3,99.7L516.3,99.9L515.3,100.1L514.3,100.2L513.3,100.4L512.3,100.6L511.3,100.8L510.3,101.0L509.3,101.2L508.3,101.4L507.3,101.5L506.3,101.7L505.3,101.9L504.3,102.1L503.3,102.3L502.3,102.4L501.3,102.6L500.3,102.8L499.3,102.9L498.3,103.1L497.3,103.2L496.3,103.3L495.3,103.5L494.3,103.6L493.3,103.7L492.3,103.9L491.3,104.0L490.3,104.1L489.3,104.2L488.3,104.4L487.3,104.5L486.3,104.6L485.3,104.7L484.3,104.8L483.3,104.9L482.3,105.1L481.3,105.2L480.3,105.3L479.3,105.4L478.3,105.5L477.3,105.6L476.3,105.7L475.3,105.9L474.3,106.0L473.3,106.1L472.3,106.2L471.3,106.3L470.3,106.4L469.3,106.5L468.3,106.6L467.3,106.8L466.3,106.9L465.3,107.0L464.3,107.1L463.3,107.2L462.3,107.3L461.3,107.4L460.3,107.5Z" fill="#92d1e7"/>
<clipPath id="c20"><path d="M460.3,27.7L461.3,27.3L462.3,27.0L463.3,26.7L464.3,26.3L465.3,26.1L466.3,25.8L467.3,25.6L468.3,25.4L469.3,25.3L470.3,25.2L471.3,25.1L472.3,25.1L473.3,25.1L474.3,25.2L475.3,25.3L476.3,25.4L477.3,25.6L478.3,25.8L479.3,26.0L480.3,26.2L481.3,26.4L482.3,26.6L483.3,26.8L484.3,27.0L485.3,27.2L486.3,27.4L487.3,27.6L488.3,27.7L489.3,27.8L490.3,27.9L491.3,28.0L492.3,28.0L493.3,28.1L494.3,28.2L495.3,28.3L496.3,28.3L497.3,28.4L498.3,28.4L499.3,28.5L500.3,28.6L501.3,28.6L502.3,28.7L503.3,28.8L504.3,28.8L505.3,28.9L506.3,29.0L507.3,29.1L508.3,29.1L509.3,29.2L510.3,29.3L511.3,29.4L512.3,29.5L513.3,29.6L514.3,29.8L515.3,29.9L516.3,30.0L517.3,30.1L518.3,30.2L519.3,30.4L520.3,30.5L521.3,30.6L522.3,30.8L523.3,30.9L524.3,31.1L525.3,31.2L526.3,31.4L527.3,31.5L528.3,31.7L529.3,31.8L530.3,32.0L531.3,32.2L532.3,32.5L533.3,32.7L534.3,33.0L535.3,33.2L536.3,33.5L537.3,33.6L538.3,33.8L539.3,33.8L540.3,33.8L541.3,33.7L542.3,33.5L543.3,33.3L544.3,33.0L545.3,32.7L545.5,32.6L545.5,91.2L545.3,91.2L544.3,91.1L543.3,91.1L542.3,91.0L541.3,91.0L540.3,90.9L539.3,90.9L538.3,90.8L537.3,90.8L536.3,90.7L535.3,90.6L534.3,90.6L533.3,90.5L532.3,90.4L531.3,90.4L530.3,90.3L529.3,90.2L528.3,90.1L527.3,90.0L526.3,90.0L525.3,89.9L524.3,89.8L523.3,89.7L522.3,89.6L521.3,89.5L520.3,89.3L519.3,89.2L518.3,89.1L517.3,89.0L516.3,88.9L515.3,88.8L514.3,88.7L513.3,88.6L512.3,88.5L511.3,88.4L510.3,88.3L509.3,88.2L508.3,88.2L507.3,88.1L506.3,88.0L505.3,87.9L504.3,87.8L503.3,87.7L502.3,87.6L501.3,87.5L500.3,87.5L499.3,87.4L498.3,87.3L497.3,87.2L496.3,87.1L495.3,87.0L494.3,86.9L493.3,86.9L492.3,86.8L491.3,86.7L490.3,86.6L489.3,86.6L488.3,86.5L487.3,86.5L486.3,86.4L485.3,86.4L484.3,86.3L483.3,86.3L482.3,86.3L481.3,86.2L480.3,86.2L479.3,86.2L478.3,86.2L477.3,86.2L476.3,86.2L475.3,86.2L474.3,86.2L473.3,86.2L472.3,86.2L471.3,86.2L470.3,86.2L469.3,86.2L468.3,86.2L467.3,86.2L466.3,86.2L465.3,86.2L464.3,86.2L463.3,86.2L462.3,86.2L461.3,86.2L460.3,86.2Z"/></clipPath>
<path d="M460.3,71.9L461.3,71.9L462.3,71.9L463.3,71.9L464.3,71.8L465.3,71.8L466.3,71.8L467.3,71.7L468.3,71.7L469.3,71.6L470.3,71.6L471.3,71.5L472.3,71.4L473.3,71.3L474.3,71.3L475.3,71.2L476.3,71.1L477.3,71.0L478.3,70.9L479.3,70.8L480.3,70.6L481.3,70.4L482.3,70.2L483.3,69.9L484.3,69.7L485.3,69.4L486.3,69.1L487.3,68.8L488.3,68.5L489.3,68.2L490.3,67.9L491.3,67.5L492.3,67.2L493.3,66.9L494.3,66.6L495.3,66.2L496.3,65.9L497.3,65.5L498.3,65.1L499.3,64.8L500.3,64.4L501.3,64.0L502.3,63.6L503.3,63.2L504.3,62.7L505.3,62.3L506.3,61.9L507.3,61.4L508.3,61.0L509.3,60.5L510.3,60.0L511.3,59.5L512.3,59.0L513.3,58.5L514.3,57.9L515.3,57.3L516.3,56.7L517.3,56.1L518.3,55.5L519.3,54.9L520.3,54.3L521.3,53.6L522.3,53.0L523.3,52.3L524.3,51.7L525.3,51.0L526.3,50.4L527.3,49.7L528.3,49.1L529.3,48.4L530.3,47.8L531.3,47.1L532.3,46.5L533.3,45.8L534.3,45.1L535.3,44.5L536.3,43.8L537.3,43.1L538.3,42.4L539.3,41.7L540.3,41.0L541.3,40.3L542.3,39.6L543.3,38.9L544.3,38.2L545.3,37.4L545.5,37.3L545.5,92.3L545.3,92.5L544.3,93.2L543.3,94.0L542.3,94.8L541.3,95.4L540.3,96.0L539.3,96.3L538.3,96.6L537.3,96.8L536.3,97.0L535.3,97.2L534.3,97.4L533.3,97.6L532.3,97.7L531.3,97.9L530.3,98.0L529.3,98.1L528.3,98.3L527.3,98.4L526.3,98.5L525.3,98.6L524.3,98.7L523.3,98.8L522.3,98.9L521.3,99.1L520.3,99.2L519.3,99.4L518.3,99.5L517.3,99.7L516.3,99.9L515.3,100.1L514.3,100.2L513.3,100.4L512.3,100.6L511.3,100.8L510.3,101.0L509.3,101.2L508.3,101.4L507.3,101.5L506.3,101.7L505.3,101.9L504.3,102.1L503.3,102.3L502.3,102.4L501.3,102.6L500.3,102.8L499.3,102.9L498.3,103.1L497.3,103.2L496.3,103.3L495.3,103.5L494.3,103.6L493.3,103.7L492.3,103.9L491.3,104.0L490.3,104.1L489.3,104.2L488.3,104.4L487.3,104.5L486.3,104.6L485.3,104.7L484.3,104.8L483.3,104.9L482.3,105.1L481.3,105.2L480.3,105.3L479.3,105.4L478.3,105.5L477.3,105.6L476.3,105.7L475.3,105.9L474.3,106.0L473.3,106.1L472.3,106.2L471.3,106.3L470.3,106.4L469.3,106.5L468.3,106.6L467.3,106.8L466.3,106.9L465.3,107.0L464.3,107.1L463.3,107.2L462.3,107.3L461.3,107.4L460.3,107.5Z" fill="#86c6a5" clip-path="url(#c20)"/>
<path d="M460.3,73.3L461.3,73.1L462.3,72.8L463.3,72.6L464.3,72.4L465.3,72.2L466.3,71.9L467.3,71.7L468.3,71.6L469.3,71.4L470.3,71.2L471.3,71.1L472.3,70.9L473.3,70.8L474.3,70.7L475.3,70.6L476.3,70.6L477.3,70.5L478.3,70.5L479.3,70.5L480.3,70.5L481.3,70.5L482.3,70.6L483.3,70.6L484.3,70.6L485.3,70.7L486.3,70.7L487.3,70.8L488.3,70.8L489.3,70.9L490.3,71.0L491.3,71.0L492.3,71.1L493.3,71.2L494.3,71.3L495.3,71.4L496.3,71.4L497.3,71.5L498.3,71.6L499.3,71.7L500.3,71.8L501.3,71.9L502.3,72.0L503.3,72.1L504.3,72.1L505.3,72.2L506.3,72.3L507.3,72.4L508.3,72.5L509.3,72.5L510.3,72.6L511.3,72.7L512.3,72.7L513.3,72.8L514.3,72.9L515.3,73.0L516.3,73.0L517.3,73.1L518.3,73.2L519.3,73.3L520.3,73.3L521.3,73.4L522.3,73.5L523.3,73.6L524.3,73.7L525.3,73.7L526.3,73.8L527.3,73.9L528.3,74.0L529.3,74.0L530.3,74.1L531.3,74.2L532.3,74.3L533.3,74.4L534.3,74.5L535.3,74.5L536.3,74.6L537.3,74.7L538.3,74.8L539.3,74.9L540.3,75.0L541.3,75.0L542.3,75.1L543.3,75.2L544.3,75.3L545.3,75.4L545.5,75.4" fill="none" stroke="#76b95a" stroke-width="1.2"/>
<path d="M460.3,100.0L461.3,99.8L462.3,99.5L463.3,99.3L464.3,99.0L465.3,98.8L466.3,98.5L467.3,98.3L468.3,98.1L469.3,97.8L470.3,97.6L471.3,97.4L472.3,97.1L473.3,96.9L474.3,96.6L475.3,96.4L476.3,96.2L477.3,96.0L478.3,95.7L479.3,95.5L480.3,95.3L481.3,95.0L482.3,94.8L483.3,94.6L484.3,94.4L485.3,94.1L486.3,93.9L487.3,93.7L488.3,93.5L489.3,93.2L490.3,93.0L491.3,92.8L492.3,92.6L493.3,92.3L494.3,92.1L495.3,91.9L496.3,91.7L497.3,91.5L498.3,91.3L499.3,91.1L500.3,90.9L501.3,90.7L502.3,90.5L503.3,90.3L504.3,90.1L505.3,89.9L506.3,89.8L507.3,89.6L508.3,89.4L509.3,89.2L510.3,89.0L511.3,88.9L512.3,88.7L513.3,88.5L514.3,88.3L515.3,88.1L516.3,87.8L517.3,87.6L518.3,87.4L519.3,87.2L520.3,86.9L521.3,86.6L522.3,86.3L523.3,86.0L524.3,85.7L525.3,85.4L526.3,85.1L527.3,84.7L528.3,84.4L529.3,84.1L530.3,83.7L531.3,83.4L532.3,83.0L533.3,82.7L534.3,82.3L535.3,82.0L536.3,81.6L537.3,81.2L538.3,80.9L539.3,80.5L540.3,80.1L541.3,79.7L542.3,79.3L543.3,78.9L544.3,78.5L545.3,78.1L545.5,78.0" fill="none" stroke="#3ca7c2" stroke-width="1.4"/>
<path d="M319.4,186.5L320.4,186.8L321.4,187.1L322.4,187.4L323.4,187.8L324.4,188.1L325.4,188.4L326.4,188.7L327.4,189.0L328.4,189.3L329.4,189.7L330.4,190.0L331.4,190.3L332.4,190.6L333.4,190.9L334.4,191.3L335.4,191.6L336.4,191.9L337.4,192.2L338.4,192.6L339.4,192.9L340.4,193.2L341.4,193.5L342.4,193.9L343.4,194.2L344.4,194.5L345.4,194.9L346.4,195.2L347.4,195.6L348.4,195.9L349.4,196.3L350.4,196.7L351.4,197.0L352.4,197.4L353.4,197.7L354.4,198.1L355.4,198.5L356.4,198.8L357.4,199.2L358.4,199.5L359.4,199.8L360.4,200.2L361.4,200.5L362.4,200.8L363.4,201.1L364.4,201.4L365.4,201.7L366.4,201.9L367.4,202.2L368.4,202.5L369.4,202.7L370.4,202.9L371.4,203.2L372.4,203.4L373.4,203.6L374.4,203.9L375.4,204.1L376.4,204.3L377.4,204.5L378.4,204.7L379.4,204.9L380.4,205.1L381.4,205.3L382.4,205.5L383.4,205.6L384.4,205.8L385.4,206.0L386.4,206.2L387.4,206.3L388.4,206.5L389.4,206.6L390.4,206.8L391.4,206.9L392.4,207.1L393.4,207.2L394.4,207.4L395.4,207.5L396.4,207.6L397.4,207.8L398.4,207.9L399.4,208.0L400.4,208.1L401.4,208.3L402.4,208.4L403.4,208.5L404.4,208.6L404.6,208.6L404.6,225.8L404.4,225.8L403.4,225.6L402.4,225.5L401.4,225.4L400.4,225.2L399.4,225.1L398.4,225.0L397.4,224.8L396.4,224.7L395.4,224.6L394.4,224.4L393.4,224.3L392.4,224.2L391.4,224.0L390.4,223.9L389.4,223.8L388.4,223.6L387.4,223.5L386.4,223.4L385.4,223.2L384.4,223.1L383.4,223.0L382.4,222.8L381.4,222.7L380.4,222.5L379.4,222.4L378.4,222.3L377.4,222.1L376.4,222.0L375.4,221.9L374.4,221.7L373.4,221.6L372.4,221.4L371.4,221.3L370.4,221.2L369.4,221.0L368.4,220.9L367.4,220.8L366.4,220.6L365.4,220.5L364.4,220.4L363.4,220.2L362.4,220.1L361.4,220.0L360.4,219.8L359.4,219.7L358.4,219.6L357.4,219.4L356.4,219.3L355.4,219.2L354.4,219.0L353.4,218.9L352.4,218.7L351.4,218.6L350.4,218.5L349.4,218.3L348.4,218.2L347.4,218.0L346.4,217.9L345.4,217.7L344.4,217.6L343.4,217.4L342.4,217.2L341.4,217.1L340.4,216.9L339.4,216.7L338.4,216.6L337.4,216.4L336.4,216.2L335.4,216.0L334.4,215.8L333.4,215.6L332.4,215.4L331.4,215.1L330.4,214.9L329.4,214.7L328.4,214.4L327.4,214.1L326.4,213.9L325.4,213.6L324.4,213.3L323.4,213.0L322.4,212.7L321.4,212.4L320.4,212.1L319.4,211.8Z" fill="#c6deae"/>
<path d="M319.4,218.8L320.4,218.9L321.4,219.0L322.4,219.0L323.4,219.1L324.4,219.2L325.4,219.2L326.4,219.3L327.4,219.3L328.4,219.4L329.4,219.4L330.4,219.5L331.4,219.5L332.4,219.5L333.4,219.5L334.4,219.5L335.4,219.6L336.4,219.6L337.4,219.6L338.4,219.6L339.4,219.6L340.4,219.6L341.4,219.6L342.4,219.6L343.4,219.6L344.4,219.6L345.4,219.6L346.4,219.5L347.4,219.5L348.4,219.4L349.4,219.4L350.4,219.3L351.4,219.2L352.4,219.2L353.4,219.1L354.4,219.0L355.4,218.9L356.4,218.8L357.4,218.7L358.4,218.6L359.4,218.5L360.4,218.3L361.4,218.2L362.4,218.1L363.4,218.0L364.4,217.8L365.4,217.7L366.4,217.6L367.4,217.4L368.4,217.3L369.4,217.1L370.4,217.0L371.4,216.8L372.4,216.6L373.4,216.3L374.4,216.1L375.4,215.9L376.4,215.6L377.4,215.3L378.4,215.1L379.4,214.8L380.4,214.5L381.4,214.2L382.4,213.9L383.4,213.6L384.4,213.2L385.4,212.9L386.4,212.6L387.4,212.3L388.4,211.9L389.4,211.6L390.4,211.2L391.4,210.8L392.4,210.4L393.4,210.0L394.4,209.5L395.4,209.1L396.4,208.6L397.4,208.2L398.4,207.7L399.4,207.2L400.4,206.7L401.4,206.2L402.4,205.7L403.4,205.1L404.4,204.6L404.6,204.5L404.6,224.2L404.4,224.3L403.4,224.6L402.4,224.9L401.4,225.2L400.4,225.5L399.4,225.7L398.4,226.0L397.4,226.3L396.4,226.6L395.4,226.9L394.4,227.1L393.4,227.4L392.4,227.7L391.4,227.9L390.4,228.2L389.4,228.4L388.4,228.7L387.4,228.9L386.4,229.2L385.4,229.4L384.4,229.6L383.4,229.9L382.4,230.1L381.4,230.4L380.4,230.6L379.4,230.8L378.4,231.1L377.4,231.3L376.4,231.5L375.4,231.7L374.4,231.9L373.4,232.1L372.4,232.3L371.4,232.5L370.4,232.7L369.4,232.8L368.4,233.0L367.4,233.1L366.4,233.3L365.4,233.4L364.4,233.6L363.4,233.7L362.4,233.8L361.4,234.0L360.4,234.1L359.4,234.2L358.4,234.4L357.4,234.5L356.4,234.6L355.4,234.7L354.4,234.9L353.4,235.0L352.4,235.1L351.4,235.2L350.4,235.2L349.4,235.3L348.4,235.4L347.4,235.5L346.4,235.5L345.4,235.5L344.4,235.6L343.4,235.6L342.4,235.6L341.4,235.6L340.4,235.6L339.4,235.6L338.4,235.6L337.4,235.6L336.4,235.6L335.4,235.6L334.4,235.6L333.4,235.5L332.4,235.5L331.4,235.5L330.4,235.5L329.4,235.4L328.4,235.4L327.4,235.4L326.4,235.3L325.4,235.3L324.4,235.2L323.4,235.1L322.4,235.1L321.4,235.0L320.4,234.9L319.4,234.8Z" fill="#92d1e7"/>
<clipPath id="c26"><path d="M319.4,186.5L320.4,186.8L321.4,187.1L322.4,187.4L323.4,187.8L324.4,188.1L325.4,188.4L326.4,188.7L327.4,189.0L328.4,189.3L329.4,189.7L330.4,190.0L331.4,190.3L332.4,190.6L333.4,190.9L334.4,191.3L335.4,191.6L336.4,191.9L337.4,192.2L338.4,192.6L339.4,192.9L340.4,193.2L341.4,193.5L342.4,193.9L343.4,194.2L344.4,194.5L345.4,194.9L346.4,195.2L347.4,195.6L348.4,195.9L349.4,196.3L350.4,196.7L351.4,197.0L352.4,197.4L353.4,197.7L354.4,198.1L355.4,198.5L356.4,198.8L357.4,199.2L358.4,199.5L359.4,199.8L360.4,200.2L361.4,200.5L362.4,200.8L363.4,201.1L364.4,201.4L365.4,201.7L366.4,201.9L367.4,202.2L368.4,202.5L369.4,202.7L370.4,202.9L371.4,203.2L372.4,203.4L373.4,203.6L374.4,203.9L375.4,204.1L376.4,204.3L377.4,204.5L378.4,204.7L379.4,204.9L380.4,205.1L381.4,205.3L382.4,205.5L383.4,205.6L384.4,205.8L385.4,206.0L386.4,206.2L387.4,206.3L388.4,206.5L389.4,206.6L390.4,206.8L391.4,206.9L392.4,207.1L393.4,207.2L394.4,207.4L395.4,207.5L396.4,207.6L397.4,207.8L398.4,207.9L399.4,208.0L400.4,208.1L401.4,208.3L402.4,208.4L403.4,208.5L404.4,208.6L404.6,208.6L404.6,225.8L404.4,225.8L403.4,225.6L402.4,225.5L401.4,225.4L400.4,225.2L399.4,225.1L398.4,225.0L397.4,224.8L396.4,224.7L395.4,224.6L394.4,224.4L393.4,224.3L392.4,224.2L391.4,224.0L390.4,223.9L389.4,223.8L388.4,223.6L387.4,223.5L386.4,223.4L385.4,223.2L384.4,223.1L383.4,223.0L382.4,222.8L381.4,222.7L380.4,222.5L379.4,222.4L378.4,222.3L377.4,222.1L376.4,222.0L375.4,221.9L374.4,221.7L373.4,221.6L372.4,221.4L371.4,221.3L370.4,221.2L369.4,221.0L368.4,220.9L367.4,220.8L366.4,220.6L365.4,220.5L364.4,220.4L363.4,220.2L362.4,220.1L361.4,220.0L360.4,219.8L359.4,219.7L358.4,219.6L357.4,219.4L356.4,219.3L355.4,219.2L354.4,219.0L353.4,218.9L352.4,218.7L351.4,218.6L350.4,218.5L349.4,218.3L348.4,218.2L347.4,218.0L346.4,217.9L345.4,217.7L344.4,217.6L343.4,217.4L342.4,217.2L341.4,217.1L340.4,216.9L339.4,216.7L338.4,216.6L337.4,216.4L336.4,216.2L335.4,216.0L334.4,215.8L333.4,215.6L332.4,215.4L331.4,215.1L330.4,214.9L329.4,214.7L328.4,214.4L327.4,214.1L326.4,213.9L325.4,213.6L324.4,213.3L323.4,213.0L322.4,212.7L321.4,212.4L320.4,212.1L319.4,211.8Z"/></clipPath>
<path d="M319.4,218.8L320.4,218.9L321.4,219.0L322.4,219.0L323.4,219.1L324.4,219.2L325.4,219.2L326.4,219.3L327.4,219.3L328.4,219.4L329.4,219.4L330.4,219.5L331.4,219.5L332.4,219.5L333.4,219.5L334.4,219.5L335.4,219.6L336.4,219.6L337.4,219.6L338.4,219.6L339.4,219.6L340.4,219.6L341.4,219.6L342.4,219.6L343.4,219.6L344.4,219.6L345.4,219.6L346.4,219.5L347.4,219.5L348.4,219.4L349.4,219.4L350.4,219.3L351.4,219.2L352.4,219.2L353.4,219.1L354.4,219.0L355.4,218.9L356.4,218.8L357.4,218.7L358.4,218.6L359.4,218.5L360.4,218.3L361.4,218.2L362.4,218.1L363.4,218.0L364.4,217.8L365.4,217.7L366.4,217.6L367.4,217.4L368.4,217.3L369.4,217.1L370.4,217.0L371.4,216.8L372.4,216.6L373.4,216.3L374.4,216.1L375.4,215.9L376.4,215.6L377.4,215.3L378.4,215.1L379.4,214.8L380.4,214.5L381.4,214.2L382.4,213.9L383.4,213.6L384.4,213.2L385.4,212.9L386.4,212.6L387.4,212.3L388.4,211.9L389.4,211.6L390.4,211.2L391.4,210.8L392.4,210.4L393.4,210.0L394.4,209.5L395.4,209.1L396.4,208.6L397.4,208.2L398.4,207.7L399.4,207.2L400.4,206.7L401.4,206.2L402.4,205.7L403.4,205.1L404.4,204.6L404.6,204.5L404.6,224.2L404.4,224.3L403.4,224.6L402.4,224.9L401.4,225.2L400.4,225.5L399.4,225.7L398.4,226.0L397.4,226.3L396.4,226.6L395.4,226.9L394.4,227.1L393.4,227.4L392.4,227.7L391.4,227.9L390.4,228.2L389.4,228.4L388.4,228.7L387.4,228.9L386.4,229.2L385.4,229.4L384.4,229.6L383.4,229.9L382.4,230.1L381.4,230.4L380.4,230.6L379.4,230.8L378.4,231.1L377.4,231.3L376.4,231.5L375.4,231.7L374.4,231.9L373.4,232.1L372.4,232.3L371.4,232.5L370.4,232.7L369.4,232.8L368.4,233.0L367.4,233.1L366.4,233.3L365.4,233.4L364.4,233.6L363.4,233.7L362.4,233.8L361.4,234.0L360.4,234.1L359.4,234.2L358.4,234.4L357.4,234.5L356.4,234.6L355.4,234.7L354.4,234.9L353.4,235.0L352.4,235.1L351.4,235.2L350.4,235.2L349.4,235.3L348.4,235.4L347.4,235.5L346.4,235.5L345.4,235.5L344.4,235.6L343.4,235.6L342.4,235.6L341.4,235.6L340.4,235.6L339.4,235.6L338.4,235.6L337.4,235.6L336.4,235.6L335.4,235.6L334.4,235.6L333.4,235.5L332.4,235.5L331.4,235.5L330.4,235.5L329.4,235.4L328.4,235.4L327.4,235.4L326.4,235.3L325.4,235.3L324.4,235.2L323.4,235.1L322.4,235.1L321.4,235.0L320.4,234.9L319.4,234.8Z" fill="#7dc3a9" clip-path="url(#c26)"/>
<path d="M319.4,198.3L320.4,198.6L321.4,199.0L322.4,199.3L323.4,199.6L324.4,199.9L325.4,200.2L326.4,200.6L327.4,200.9L328.4,201.2L329.4,201.5L330.4,201.8L331.4,202.1L332.4,202.4L333.4,202.7L334.4,203.0L335.4,203.3L336.4,203.6L337.4,203.9L338.4,204.2L339.4,204.5L340.4,204.8L341.4,205.1L342.4,205.4L343.4,205.7L344.4,205.9L345.4,206.2L346.4,206.5L347.4,206.8L348.4,207.1L349.4,207.4L350.4,207.6L351.4,207.9L352.4,208.2L353.4,208.5L354.4,208.7L355.4,209.0L356.4,209.3L357.4,209.6L358.4,209.8L359.4,210.1L360.4,210.3L361.4,210.6L362.4,210.8L363.4,211.1L364.4,211.3L365.4,211.5L366.4,211.8L367.4,212.0L368.4,212.2L369.4,212.4L370.4,212.6L371.4,212.9L372.4,213.1L373.4,213.3L374.4,213.5L375.4,213.7L376.4,213.9L377.4,214.1L378.4,214.3L379.4,214.5L380.4,214.6L381.4,214.8L382.4,215.0L383.4,215.2L384.4,215.3L385.4,215.5L386.4,215.7L387.4,215.8L388.4,216.0L389.4,216.1L390.4,216.3L391.4,216.4L392.4,216.5L393.4,216.7L394.4,216.8L395.4,216.9L396.4,217.1L397.4,217.2L398.4,217.3L399.4,217.4L400.4,217.6L401.4,217.7L402.4,217.8L403.4,217.9L404.4,218.0L404.6,218.0" fill="none" stroke="#76b95a" stroke-width="1.2"/>
<path d="M319.4,227.0L320.4,227.1L321.4,227.3L322.4,227.4L323.4,227.5L324.4,227.6L325.4,227.7L326.4,227.8L327.4,227.9L328.4,228.0L329.4,228.1L330.4,228.2L331.4,228.2L332.4,228.3L333.4,228.4L334.4,228.4L335.4,228.5L336.4,228.5L337.4,228.5L338.4,228.6L339.4,228.6L340.4,228.6L341.4,228.6L342.4,228.6L343.4,228.6L344.4,228.6L345.4,228.6L346.4,228.5L347.4,228.5L348.4,228.4L349.4,228.4L350.4,228.3L351.4,228.3L352.4,228.2L353.4,228.1L354.4,228.0L355.4,227.9L356.4,227.8L357.4,227.7L358.4,227.6L359.4,227.5L360.4,227.4L361.4,227.3L362.4,227.2L363.4,227.0L364.4,226.9L365.4,226.8L366.4,226.7L367.4,226.5L368.4,226.4L369.4,226.2L370.4,226.1L371.4,225.9L372.4,225.7L373.4,225.5L374.4,225.2L375.4,225.0L376.4,224.7L377.4,224.5L378.4,224.2L379.4,223.9L380.4,223.6L381.4,223.3L382.4,223.0L383.4,222.7L384.4,222.4L385.4,222.1L386.4,221.8L387.4,221.5L388.4,221.2L389.4,220.8L390.4,220.5L391.4,220.1L392.4,219.7L393.4,219.3L394.4,218.9L395.4,218.5L396.4,218.1L397.4,217.7L398.4,217.3L399.4,216.8L400.4,216.4L401.4,215.9L402.4,215.4L403.4,215.0L404.4,214.5L404.6,214.4" fill="none" stroke="#3ca7c2" stroke-width="1.4"/>
<path d="M460.3,186.9L461.3,187.2L462.3,187.5L463.3,187.8L464.3,188.2L465.3,188.5L466.3,188.8L467.3,189.1L468.3,189.4L469.3,189.7L470.3,190.0L471.3,190.3L472.3,190.6L473.3,190.9L474.3,191.2L475.3,191.5L476.3,191.8L477.3,192.1L478.3,192.4L479.3,192.7L480.3,193.0L481.3,193.3L482.3,193.6L483.3,193.8L484.3,194.1L485.3,194.4L486.3,194.7L487.3,195.0L488.3,195.3L489.3,195.6L490.3,195.9L491.3,196.1L492.3,196.4L493.3,196.7L494.3,197.0L495.3,197.3L496.3,197.6L497.3,197.8L498.3,198.1L499.3,198.4L500.3,198.6L501.3,198.9L502.3,199.1L503.3,199.4L504.3,199.6L505.3,199.9L506.3,200.1L507.3,200.3L508.3,200.6L509.3,200.8L510.3,201.0L511.3,201.2L512.3,201.4L513.3,201.6L514.3,201.8L515.3,202.0L516.3,202.1L517.3,202.3L518.3,202.5L519.3,202.7L520.3,202.8L521.3,203.0L522.3,203.2L523.3,203.4L524.3,203.6L525.3,203.7L526.3,203.9L527.3,204.1L528.3,204.3L529.3,204.5L530.3,204.7L531.3,204.9L532.3,205.1L533.3,205.3L534.3,205.5L535.3,205.7L536.3,205.9L537.3,206.1L538.3,206.3L539.3,206.5L540.3,206.7L541.3,206.9L542.3,207.1L543.3,207.3L544.3,207.5L545.3,207.7L545.7,207.8L545.7,224.5L545.3,224.4L544.3,224.2L543.3,224.0L542.3,223.8L541.3,223.6L540.3,223.4L539.3,223.2L538.3,222.9L537.3,222.7L536.3,222.5L535.3,222.3L534.3,222.2L533.3,222.0L532.3,221.8L531.3,221.6L530.3,221.4L529.3,221.2L528.3,221.0L527.3,220.8L526.3,220.6L525.3,220.5L524.3,220.3L523.3,220.1L522.3,219.9L521.3,219.7L520.3,219.5L519.3,219.4L518.3,219.2L517.3,219.0L516.3,218.8L515.3,218.7L514.3,218.5L513.3,218.4L512.3,218.2L511.3,218.0L510.3,217.9L509.3,217.8L508.3,217.6L507.3,217.5L506.3,217.4L505.3,217.3L504.3,217.2L503.3,217.0L502.3,216.9L501.3,216.8L500.3,216.7L499.3,216.6L498.3,216.5L497.3,216.4L496.3,216.3L495.3,216.2L494.3,216.1L493.3,216.0L492.3,216.0L491.3,215.9L490.3,215.8L489.3,215.7L488.3,215.6L487.3,215.5L486.3,215.4L485.3,215.4L484.3,215.3L483.3,215.2L482.3,215.1L481.3,215.0L480.3,214.9L479.3,214.9L478.3,214.8L477.3,214.7L476.3,214.6L475.3,214.5L474.3,214.5L473.3,214.4L472.3,214.3L471.3,214.2L470.3,214.2L469.3,214.1L468.3,214.0L467.3,214.0L466.3,213.9L465.3,213.8L464.3,213.8L463.3,213.7L462.3,213.6L461.3,213.6L460.3,213.5Z" fill="#c6deae"/>
<path d="M460.3,214.0L461.3,214.2L462.3,214.3L463.3,214.5L464.3,214.6L465.3,214.8L466.3,214.9L467.3,215.0L468.3,215.1L469.3,215.2L470.3,215.3L471.3,215.3L472.3,215.4L473.3,215.5L474.3,215.5L475.3,215.6L476.3,215.6L477.3,215.6L478.3,215.6L479.3,215.7L480.3,215.7L481.3,215.7L482.3,215.7L483.3,215.7L484.3,215.7L485.3,215.7L486.3,215.6L487.3,215.6L488.3,215.5L489.3,215.4L490.3,215.2L491.3,215.1L492.3,215.0L493.3,214.8L494.3,214.6L495.3,214.5L496.3,214.3L497.3,214.1L498.3,213.9L499.3,213.7L500.3,213.5L501.3,213.3L502.3,213.1L503.3,212.9L504.3,212.6L505.3,212.4L506.3,212.2L507.3,212.0L508.3,211.8L509.3,211.6L510.3,211.4L511.3,211.2L512.3,211.0L513.3,210.8L514.3,210.6L515.3,210.3L516.3,210.1L517.3,209.8L518.3,209.6L519.3,209.3L520.3,209.1L521.3,208.8L522.3,208.5L523.3,208.3L524.3,208.0L525.3,207.7L526.3,207.4L527.3,207.1L528.3,206.8L529.3,206.5L530.3,206.2L531.3,205.9L532.3,205.6L533.3,205.2L534.3,204.9L535.3,204.5L536.3,204.2L537.3,203.8L538.3,203.4L539.3,203.1L540.3,202.7L541.3,202.3L542.3,201.9L543.3,201.5L544.3,201.1L545.3,200.7L545.7,200.5L545.7,223.9L545.3,224.0L544.3,224.1L543.3,224.2L542.3,224.4L541.3,224.5L540.3,224.7L539.3,224.8L538.3,225.0L537.3,225.1L536.3,225.3L535.3,225.4L534.3,225.6L533.3,225.7L532.3,225.9L531.3,226.0L530.3,226.2L529.3,226.3L528.3,226.5L527.3,226.7L526.3,226.8L525.3,227.0L524.3,227.2L523.3,227.3L522.3,227.5L521.3,227.7L520.3,227.8L519.3,228.0L518.3,228.2L517.3,228.4L516.3,228.5L515.3,228.7L514.3,228.9L513.3,229.1L512.3,229.2L511.3,229.4L510.3,229.5L509.3,229.7L508.3,229.9L507.3,230.0L506.3,230.2L505.3,230.3L504.3,230.5L503.3,230.7L502.3,230.9L501.3,231.0L500.3,231.2L499.3,231.4L498.3,231.6L497.3,231.7L496.3,231.9L495.3,232.1L494.3,232.2L493.3,232.4L492.3,232.5L491.3,232.7L490.3,232.8L489.3,232.9L488.3,233.0L487.3,233.1L486.3,233.1L485.3,233.2L484.3,233.2L483.3,233.2L482.3,233.2L481.3,233.2L480.3,233.2L479.3,233.2L478.3,233.2L477.3,233.2L476.3,233.2L475.3,233.2L474.3,233.2L473.3,233.1L472.3,233.1L471.3,233.1L470.3,233.1L469.3,233.0L468.3,233.0L467.3,232.9L466.3,232.9L465.3,232.8L464.3,232.7L463.3,232.7L462.3,232.6L461.3,232.5L460.3,232.4Z" fill="#92d1e7"/>
<clipPath id="c32"><path d="M460.3,186.9L461.3,187.2L462.3,187.5L463.3,187.8L464.3,188.2L465.3,188.5L466.3,188.8L467.3,189.1L468.3,189.4L469.3,189.7L470.3,190.0L471.3,190.3L472.3,190.6L473.3,190.9L474.3,191.2L475.3,191.5L476.3,191.8L477.3,192.1L478.3,192.4L479.3,192.7L480.3,193.0L481.3,193.3L482.3,193.6L483.3,193.8L484.3,194.1L485.3,194.4L486.3,194.7L487.3,195.0L488.3,195.3L489.3,195.6L490.3,195.9L491.3,196.1L492.3,196.4L493.3,196.7L494.3,197.0L495.3,197.3L496.3,197.6L497.3,197.8L498.3,198.1L499.3,198.4L500.3,198.6L501.3,198.9L502.3,199.1L503.3,199.4L504.3,199.6L505.3,199.9L506.3,200.1L507.3,200.3L508.3,200.6L509.3,200.8L510.3,201.0L511.3,201.2L512.3,201.4L513.3,201.6L514.3,201.8L515.3,202.0L516.3,202.1L517.3,202.3L518.3,202.5L519.3,202.7L520.3,202.8L521.3,203.0L522.3,203.2L523.3,203.4L524.3,203.6L525.3,203.7L526.3,203.9L527.3,204.1L528.3,204.3L529.3,204.5L530.3,204.7L531.3,204.9L532.3,205.1L533.3,205.3L534.3,205.5L535.3,205.7L536.3,205.9L537.3,206.1L538.3,206.3L539.3,206.5L540.3,206.7L541.3,206.9L542.3,207.1L543.3,207.3L544.3,207.5L545.3,207.7L545.7,207.8L545.7,224.5L545.3,224.4L544.3,224.2L543.3,224.0L542.3,223.8L541.3,223.6L540.3,223.4L539.3,223.2L538.3,222.9L537.3,222.7L536.3,222.5L535.3,222.3L534.3,222.2L533.3,222.0L532.3,221.8L531.3,221.6L530.3,221.4L529.3,221.2L528.3,221.0L527.3,220.8L526.3,220.6L525.3,220.5L524.3,220.3L523.3,220.1L522.3,219.9L521.3,219.7L520.3,219.5L519.3,219.4L518.3,219.2L517.3,219.0L516.3,218.8L515.3,218.7L514.3,218.5L513.3,218.4L512.3,218.2L511.3,218.0L510.3,217.9L509.3,217.8L508.3,217.6L507.3,217.5L506.3,217.4L505.3,217.3L504.3,217.2L503.3,217.0L502.3,216.9L501.3,216.8L500.3,216.7L499.3,216.6L498.3,216.5L497.3,216.4L496.3,216.3L495.3,216.2L494.3,216.1L493.3,216.0L492.3,216.0L491.3,215.9L490.3,215.8L489.3,215.7L488.3,215.6L487.3,215.5L486.3,215.4L485.3,215.4L484.3,215.3L483.3,215.2L482.3,215.1L481.3,215.0L480.3,214.9L479.3,214.9L478.3,214.8L477.3,214.7L476.3,214.6L475.3,214.5L474.3,214.5L473.3,214.4L472.3,214.3L471.3,214.2L470.3,214.2L469.3,214.1L468.3,214.0L467.3,214.0L466.3,213.9L465.3,213.8L464.3,213.8L463.3,213.7L462.3,213.6L461.3,213.6L460.3,213.5Z"/></clipPath>
<path d="M460.3,214.0L461.3,214.2L462.3,214.3L463.3,214.5L464.3,214.6L465.3,214.8L466.3,214.9L467.3,215.0L468.3,215.1L469.3,215.2L470.3,215.3L471.3,215.3L472.3,215.4L473.3,215.5L474.3,215.5L475.3,215.6L476.3,215.6L477.3,215.6L478.3,215.6L479.3,215.7L480.3,215.7L481.3,215.7L482.3,215.7L483.3,215.7L484.3,215.7L485.3,215.7L486.3,215.6L487.3,215.6L488.3,215.5L489.3,215.4L490.3,215.2L491.3,215.1L492.3,215.0L493.3,214.8L494.3,214.6L495.3,214.5L496.3,214.3L497.3,214.1L498.3,213.9L499.3,213.7L500.3,213.5L501.3,213.3L502.3,213.1L503.3,212.9L504.3,212.6L505.3,212.4L506.3,212.2L507.3,212.0L508.3,211.8L509.3,211.6L510.3,211.4L511.3,211.2L512.3,211.0L513.3,210.8L514.3,210.6L515.3,210.3L516.3,210.1L517.3,209.8L518.3,209.6L519.3,209.3L520.3,209.1L521.3,208.8L522.3,208.5L523.3,208.3L524.3,208.0L525.3,207.7L526.3,207.4L527.3,207.1L528.3,206.8L529.3,206.5L530.3,206.2L531.3,205.9L532.3,205.6L533.3,205.2L534.3,204.9L535.3,204.5L536.3,204.2L537.3,203.8L538.3,203.4L539.3,203.1L540.3,202.7L541.3,202.3L542.3,201.9L543.3,201.5L544.3,201.1L545.3,200.7L545.7,200.5L545.7,223.9L545.3,224.0L544.3,224.1L543.3,224.2L542.3,224.4L541.3,224.5L540.3,224.7L539.3,224.8L538.3,225.0L537.3,225.1L536.3,225.3L535.3,225.4L534.3,225.6L533.3,225.7L532.3,225.9L531.3,226.0L530.3,226.2L529.3,226.3L528.3,226.5L527.3,226.7L526.3,226.8L525.3,227.0L524.3,227.2L523.3,227.3L522.3,227.5L521.3,227.7L520.3,227.8L519.3,228.0L518.3,228.2L517.3,228.4L516.3,228.5L515.3,228.7L514.3,228.9L513.3,229.1L512.3,229.2L511.3,229.4L510.3,229.5L509.3,229.7L508.3,229.9L507.3,230.0L506.3,230.2L505.3,230.3L504.3,230.5L503.3,230.7L502.3,230.9L501.3,231.0L500.3,231.2L499.3,231.4L498.3,231.6L497.3,231.7L496.3,231.9L495.3,232.1L494.3,232.2L493.3,232.4L492.3,232.5L491.3,232.7L490.3,232.8L489.3,232.9L488.3,233.0L487.3,233.1L486.3,233.1L485.3,233.2L484.3,233.2L483.3,233.2L482.3,233.2L481.3,233.2L480.3,233.2L479.3,233.2L478.3,233.2L477.3,233.2L476.3,233.2L475.3,233.2L474.3,233.2L473.3,233.1L472.3,233.1L471.3,233.1L470.3,233.1L469.3,233.0L468.3,233.0L467.3,232.9L466.3,232.9L465.3,232.8L464.3,232.7L463.3,232.7L462.3,232.6L461.3,232.5L460.3,232.4Z" fill="#7dc3a9" clip-path="url(#c32)"/>
<path d="M460.3,198.8L461.3,199.1L462.3,199.4L463.3,199.7L464.3,200.0L465.3,200.3L466.3,200.6L467.3,200.9L468.3,201.2L469.3,201.5L470.3,201.8L471.3,202.1L472.3,202.4L473.3,202.7L474.3,202.9L475.3,203.2L476.3,203.5L477.3,203.8L478.3,204.0L479.3,204.3L480.3,204.6L481.3,204.8L482.3,205.1L483.3,205.3L484.3,205.6L485.3,205.9L486.3,206.1L487.3,206.4L488.3,206.6L489.3,206.9L490.3,207.1L491.3,207.4L492.3,207.6L493.3,207.9L494.3,208.1L495.3,208.3L496.3,208.6L497.3,208.8L498.3,209.0L499.3,209.3L500.3,209.5L501.3,209.7L502.3,209.9L503.3,210.1L504.3,210.4L505.3,210.6L506.3,210.8L507.3,211.0L508.3,211.2L509.3,211.3L510.3,211.5L511.3,211.7L512.3,211.9L513.3,212.1L514.3,212.3L515.3,212.4L516.3,212.6L517.3,212.8L518.3,212.9L519.3,213.1L520.3,213.3L521.3,213.4L522.3,213.6L523.3,213.7L524.3,213.9L525.3,214.0L526.3,214.2L527.3,214.3L528.3,214.5L529.3,214.6L530.3,214.8L531.3,214.9L532.3,215.1L533.3,215.2L534.3,215.3L535.3,215.5L536.3,215.6L537.3,215.8L538.3,215.9L539.3,216.0L540.3,216.1L541.3,216.3L542.3,216.4L543.3,216.5L544.3,216.6L545.3,216.8L545.7,216.8" fill="none" stroke="#76b95a" stroke-width="1.2"/>
<path d="M460.3,223.4L461.3,223.5L462.3,223.6L463.3,223.7L464.3,223.7L465.3,223.8L466.3,223.9L467.3,223.9L468.3,224.0L469.3,224.0L470.3,224.0L471.3,224.1L472.3,224.1L473.3,224.1L474.3,224.1L475.3,224.2L476.3,224.2L477.3,224.2L478.3,224.2L479.3,224.2L480.3,224.2L481.3,224.2L482.3,224.2L483.3,224.2L484.3,224.2L485.3,224.2L486.3,224.2L487.3,224.1L488.3,224.1L489.3,224.0L490.3,223.9L491.3,223.8L492.3,223.8L493.3,223.7L494.3,223.6L495.3,223.5L496.3,223.3L497.3,223.2L498.3,223.1L499.3,223.0L500.3,222.8L501.3,222.7L502.3,222.5L503.3,222.4L504.3,222.2L505.3,222.1L506.3,222.0L507.3,221.8L508.3,221.7L509.3,221.5L510.3,221.3L511.3,221.1L512.3,220.9L513.3,220.7L514.3,220.5L515.3,220.2L516.3,220.0L517.3,219.7L518.3,219.4L519.3,219.2L520.3,218.9L521.3,218.6L522.3,218.3L523.3,218.0L524.3,217.8L525.3,217.5L526.3,217.2L527.3,216.9L528.3,216.6L529.3,216.4L530.3,216.1L531.3,215.8L532.3,215.5L533.3,215.2L534.3,214.9L535.3,214.6L536.3,214.3L537.3,214.0L538.3,213.7L539.3,213.4L540.3,213.1L541.3,212.8L542.3,212.5L543.3,212.2L544.3,211.9L545.3,211.5L545.7,211.4" fill="none" stroke="#3ca7c2" stroke-width="1.4"/>
<path d="M319.4,339.4L320.4,339.6L321.4,339.8L322.4,340.0L323.4,340.2L324.4,340.4L325.4,340.6L326.4,340.8L327.4,341.0L328.4,341.3L329.4,341.5L330.4,341.7L331.4,341.9L332.4,342.1L333.4,342.3L334.4,342.5L335.4,342.7L336.4,343.0L337.4,343.2L338.4,343.4L339.4,343.6L340.4,343.8L341.4,344.1L342.4,344.3L343.4,344.5L344.4,344.7L345.4,345.0L346.4,345.2L347.4,345.5L348.4,345.7L349.4,346.0L350.4,346.2L351.4,346.5L352.4,346.7L353.4,347.0L354.4,347.2L355.4,347.5L356.4,347.7L357.4,348.0L358.4,348.2L359.4,348.5L360.4,348.7L361.4,348.9L362.4,349.1L363.4,349.3L364.4,349.5L365.4,349.7L366.4,349.9L367.4,350.1L368.4,350.2L369.4,350.4L370.4,350.6L371.4,350.7L372.4,350.9L373.4,351.0L374.4,351.2L375.4,351.3L376.4,351.5L377.4,351.6L378.4,351.8L379.4,351.9L380.4,352.0L381.4,352.1L382.4,352.2L383.4,352.3L384.4,352.4L385.4,352.4L386.4,352.5L387.4,352.5L388.4,352.6L389.4,352.6L390.4,352.6L391.4,352.7L392.4,352.7L393.4,352.7L394.4,352.8L395.4,352.8L396.4,352.8L397.4,352.8L398.4,352.8L399.4,352.9L400.4,352.9L401.4,352.9L402.4,352.9L403.4,352.9L404.4,352.9L404.7,352.9L404.7,384.7L404.4,384.7L403.4,384.7L402.4,384.7L401.4,384.6L400.4,384.6L399.4,384.6L398.4,384.6L397.4,384.6L396.4,384.6L395.4,384.5L394.4,384.5L393.4,384.5L392.4,384.5L391.4,384.5L390.4,384.4L389.4,384.4L388.4,384.4L387.4,384.4L386.4,384.4L385.4,384.4L384.4,384.3L383.4,384.3L382.4,384.3L381.4,384.3L380.4,384.3L379.4,384.2L378.4,384.2L377.4,384.2L376.4,384.2L375.4,384.2L374.4,384.1L373.4,384.1L372.4,384.1L371.4,384.1L370.4,384.1L369.4,384.0L368.4,384.0L367.4,384.0L366.4,384.0L365.4,384.0L364.4,384.0L363.4,383.9L362.4,383.9L361.4,383.9L360.4,383.9L359.4,383.9L358.4,383.8L357.4,383.8L356.4,383.8L355.4,383.8L354.4,383.8L353.4,383.7L352.4,383.7L351.4,383.7L350.4,383.7L349.4,383.7L348.4,383.6L347.4,383.6L346.4,383.6L345.4,383.6L344.4,383.5L343.4,383.5L342.4,383.5L341.4,383.5L340.4,383.4L339.4,383.4L338.4,383.4L337.4,383.4L336.4,383.3L335.4,383.3L334.4,383.3L333.4,383.2L332.4,383.2L331.4,383.2L330.4,383.1L329.4,383.1L328.4,383.1L327.4,383.0L326.4,383.0L325.4,382.9L324.4,382.9L323.4,382.9L322.4,382.8L321.4,382.8L320.4,382.7L319.4,382.7Z" fill="#c6deae"/>
<path d="M319.4,358.2L320.4,358.3L321.4,358.3L322.4,358.4L323.4,358.5L324.4,358.5L325.4,358.6L326.4,358.6L327.4,358.7L328.4,358.7L329.4,358.8L330.4,358.8L331.4,358.8L332.4,358.9L333.4,358.9L334.4,358.9L335.4,358.9L336.4,358.9L337.4,359.0L338.4,359.0L339.4,359.0L340.4,359.0L341.4,359.0L342.4,359.0L343.4,359.0L344.4,359.0L345.4,359.0L346.4,359.0L347.4,358.9L348.4,358.9L349.4,358.9L350.4,358.8L351.4,358.8L352.4,358.8L353.4,358.7L354.4,358.7L355.4,358.6L356.4,358.6L357.4,358.5L358.4,358.4L359.4,358.4L360.4,358.3L361.4,358.3L362.4,358.2L363.4,358.1L364.4,358.1L365.4,358.0L366.4,357.9L367.4,357.9L368.4,357.8L369.4,357.7L370.4,357.6L371.4,357.5L372.4,357.4L373.4,357.3L374.4,357.2L375.4,357.1L376.4,357.0L377.4,356.9L378.4,356.8L379.4,356.6L380.4,356.5L381.4,356.4L382.4,356.3L383.4,356.1L384.4,356.0L385.4,355.9L386.4,355.7L387.4,355.6L388.4,355.5L389.4,355.3L390.4,355.2L391.4,355.1L392.4,354.9L393.4,354.8L394.4,354.6L395.4,354.5L396.4,354.3L397.4,354.1L398.4,354.0L399.4,353.8L400.4,353.6L401.4,353.5L402.4,353.3L403.4,353.1L404.4,353.0L404.7,352.9L404.7,384.7L404.4,384.7L403.4,384.8L402.4,384.9L401.4,384.9L400.4,385.0L399.4,385.0L398.4,385.1L397.4,385.2L396.4,385.2L395.4,385.3L394.4,385.3L393.4,385.4L392.4,385.4L391.4,385.5L390.4,385.5L389.4,385.6L388.4,385.6L387.4,385.7L386.4,385.7L385.4,385.8L384.4,385.8L383.4,385.8L382.4,385.9L381.4,385.9L380.4,385.9L379.4,386.0L378.4,386.0L377.4,386.0L376.4,386.0L375.4,386.1L374.4,386.1L373.4,386.1L372.4,386.2L371.4,386.2L370.4,386.2L369.4,386.2L368.4,386.3L367.4,386.3L366.4,386.3L365.4,386.3L364.4,386.4L363.4,386.4L362.4,386.4L361.4,386.4L360.4,386.5L359.4,386.5L358.4,386.5L357.4,386.6L356.4,386.6L355.4,386.6L354.4,386.6L353.4,386.7L352.4,386.7L351.4,386.7L350.4,386.7L349.4,386.7L348.4,386.8L347.4,386.8L346.4,386.8L345.4,386.8L344.4,386.8L343.4,386.8L342.4,386.8L341.4,386.8L340.4,386.8L339.4,386.8L338.4,386.8L337.4,386.8L336.4,386.8L335.4,386.8L334.4,386.8L333.4,386.8L332.4,386.8L331.4,386.8L330.4,386.8L329.4,386.8L328.4,386.8L327.4,386.8L326.4,386.8L325.4,386.8L324.4,386.8L323.4,386.8L322.4,386.8L321.4,386.8L320.4,386.8L319.4,386.8Z" fill="#92d1e7"/>
<clipPath id="c38"><path d="M319.4,339.4L320.4,339.6L321.4,339.8L322.4,340.0L323.4,340.2L324.4,340.4L325.4,340.6L326.4,340.8L327.4,341.0L328.4,341.3L329.4,341.5L330.4,341.7L331.4,341.9L332.4,342.1L333.4,342.3L334.4,342.5L335.4,342.7L336.4,343.0L337.4,343.2L338.4,343.4L339.4,343.6L340.4,343.8L341.4,344.1L342.4,344.3L343.4,344.5L344.4,344.7L345.4,345.0L346.4,345.2L347.4,345.5L348.4,345.7L349.4,346.0L350.4,346.2L351.4,346.5L352.4,346.7L353.4,347.0L354.4,347.2L355.4,347.5L356.4,347.7L357.4,348.0L358.4,348.2L359.4,348.5L360.4,348.7L361.4,348.9L362.4,349.1L363.4,349.3L364.4,349.5L365.4,349.7L366.4,349.9L367.4,350.1L368.4,350.2L369.4,350.4L370.4,350.6L371.4,350.7L372.4,350.9L373.4,351.0L374.4,351.2L375.4,351.3L376.4,351.5L377.4,351.6L378.4,351.8L379.4,351.9L380.4,352.0L381.4,352.1L382.4,352.2L383.4,352.3L384.4,352.4L385.4,352.4L386.4,352.5L387.4,352.5L388.4,352.6L389.4,352.6L390.4,352.6L391.4,352.7L392.4,352.7L393.4,352.7L394.4,352.8L395.4,352.8L396.4,352.8L397.4,352.8L398.4,352.8L399.4,352.9L400.4,352.9L401.4,352.9L402.4,352.9L403.4,352.9L404.4,352.9L404.7,352.9L404.7,384.7L404.4,384.7L403.4,384.7L402.4,384.7L401.4,384.6L400.4,384.6L399.4,384.6L398.4,384.6L397.4,384.6L396.4,384.6L395.4,384.5L394.4,384.5L393.4,384.5L392.4,384.5L391.4,384.5L390.4,384.4L389.4,384.4L388.4,384.4L387.4,384.4L386.4,384.4L385.4,384.4L384.4,384.3L383.4,384.3L382.4,384.3L381.4,384.3L380.4,384.3L379.4,384.2L378.4,384.2L377.4,384.2L376.4,384.2L375.4,384.2L374.4,384.1L373.4,384.1L372.4,384.1L371.4,384.1L370.4,384.1L369.4,384.0L368.4,384.0L367.4,384.0L366.4,384.0L365.4,384.0L364.4,384.0L363.4,383.9L362.4,383.9L361.4,383.9L360.4,383.9L359.4,383.9L358.4,383.8L357.4,383.8L356.4,383.8L355.4,383.8L354.4,383.8L353.4,383.7L352.4,383.7L351.4,383.7L350.4,383.7L349.4,383.7L348.4,383.6L347.4,383.6L346.4,383.6L345.4,383.6L344.4,383.5L343.4,383.5L342.4,383.5L341.4,383.5L340.4,383.4L339.4,383.4L338.4,383.4L337.4,383.4L336.4,383.3L335.4,383.3L334.4,383.3L333.4,383.2L332.4,383.2L331.4,383.2L330.4,383.1L329.4,383.1L328.4,383.1L327.4,383.0L326.4,383.0L325.4,382.9L324.4,382.9L323.4,382.9L322.4,382.8L321.4,382.8L320.4,382.7L319.4,382.7Z"/></clipPath>
<path d="M319.4,358.2L320.4,358.3L321.4,358.3L322.4,358.4L323.4,358.5L324.4,358.5L325.4,358.6L326.4,358.6L327.4,358.7L328.4,358.7L329.4,358.8L330.4,358.8L331.4,358.8L332.4,358.9L333.4,358.9L334.4,358.9L335.4,358.9L336.4,358.9L337.4,359.0L338.4,359.0L339.4,359.0L340.4,359.0L341.4,359.0L342.4,359.0L343.4,359.0L344.4,359.0L345.4,359.0L346.4,359.0L347.4,358.9L348.4,358.9L349.4,358.9L350.4,358.8L351.4,358.8L352.4,358.8L353.4,358.7L354.4,358.7L355.4,358.6L356.4,358.6L357.4,358.5L358.4,358.4L359.4,358.4L360.4,358.3L361.4,358.3L362.4,358.2L363.4,358.1L364.4,358.1L365.4,358.0L366.4,357.9L367.4,357.9L368.4,357.8L369.4,357.7L370.4,357.6L371.4,357.5L372.4,357.4L373.4,357.3L374.4,357.2L375.4,357.1L376.4,357.0L377.4,356.9L378.4,356.8L379.4,356.6L380.4,356.5L381.4,356.4L382.4,356.3L383.4,356.1L384.4,356.0L385.4,355.9L386.4,355.7L387.4,355.6L388.4,355.5L389.4,355.3L390.4,355.2L391.4,355.1L392.4,354.9L393.4,354.8L394.4,354.6L395.4,354.5L396.4,354.3L397.4,354.1L398.4,354.0L399.4,353.8L400.4,353.6L401.4,353.5L402.4,353.3L403.4,353.1L404.4,353.0L404.7,352.9L404.7,384.7L404.4,384.7L403.4,384.8L402.4,384.9L401.4,384.9L400.4,385.0L399.4,385.0L398.4,385.1L397.4,385.2L396.4,385.2L395.4,385.3L394.4,385.3L393.4,385.4L392.4,385.4L391.4,385.5L390.4,385.5L389.4,385.6L388.4,385.6L387.4,385.7L386.4,385.7L385.4,385.8L384.4,385.8L383.4,385.8L382.4,385.9L381.4,385.9L380.4,385.9L379.4,386.0L378.4,386.0L377.4,386.0L376.4,386.0L375.4,386.1L374.4,386.1L373.4,386.1L372.4,386.2L371.4,386.2L370.4,386.2L369.4,386.2L368.4,386.3L367.4,386.3L366.4,386.3L365.4,386.3L364.4,386.4L363.4,386.4L362.4,386.4L361.4,386.4L360.4,386.5L359.4,386.5L358.4,386.5L357.4,386.6L356.4,386.6L355.4,386.6L354.4,386.6L353.4,386.7L352.4,386.7L351.4,386.7L350.4,386.7L349.4,386.7L348.4,386.8L347.4,386.8L346.4,386.8L345.4,386.8L344.4,386.8L343.4,386.8L342.4,386.8L341.4,386.8L340.4,386.8L339.4,386.8L338.4,386.8L337.4,386.8L336.4,386.8L335.4,386.8L334.4,386.8L333.4,386.8L332.4,386.8L331.4,386.8L330.4,386.8L329.4,386.8L328.4,386.8L327.4,386.8L326.4,386.8L325.4,386.8L324.4,386.8L323.4,386.8L322.4,386.8L321.4,386.8L320.4,386.8L319.4,386.8Z" fill="#78c3b4" clip-path="url(#c38)"/>
<path d="M319.4,364.4L320.4,364.5L321.4,364.6L322.4,364.8L323.4,364.9L324.4,365.0L325.4,365.1L326.4,365.3L327.4,365.4L328.4,365.5L329.4,365.6L330.4,365.8L331.4,365.9L332.4,366.0L333.4,366.1L334.4,366.2L335.4,366.4L336.4,366.5L337.4,366.6L338.4,366.7L339.4,366.8L340.4,367.0L341.4,367.1L342.4,367.2L343.4,367.3L344.4,367.4L345.4,367.5L346.4,367.7L347.4,367.8L348.4,367.9L349.4,368.0L350.4,368.1L351.4,368.3L352.4,368.4L353.4,368.5L354.4,368.6L355.4,368.7L356.4,368.8L357.4,369.0L358.4,369.1L359.4,369.2L360.4,369.3L361.4,369.4L362.4,369.5L363.4,369.6L364.4,369.7L365.4,369.8L366.4,369.9L367.4,370.0L368.4,370.1L369.4,370.2L370.4,370.3L371.4,370.5L372.4,370.6L373.4,370.7L374.4,370.8L375.4,370.9L376.4,371.0L377.4,371.1L378.4,371.2L379.4,371.2L380.4,371.3L381.4,371.4L382.4,371.5L383.4,371.6L384.4,371.6L385.4,371.7L386.4,371.8L387.4,371.8L388.4,371.9L389.4,372.0L390.4,372.0L391.4,372.1L392.4,372.1L393.4,372.2L394.4,372.2L395.4,372.3L396.4,372.3L397.4,372.4L398.4,372.4L399.4,372.4L400.4,372.5L401.4,372.5L402.4,372.5L403.4,372.6L404.4,372.6L404.7,372.6" fill="none" stroke="#76b95a" stroke-width="1.2"/>
<path d="M319.4,374.9L320.4,375.0L321.4,375.0L322.4,375.1L323.4,375.2L324.4,375.2L325.4,375.3L326.4,375.4L327.4,375.4L328.4,375.5L329.4,375.5L330.4,375.6L331.4,375.6L332.4,375.7L333.4,375.7L334.4,375.8L335.4,375.8L336.4,375.8L337.4,375.8L338.4,375.9L339.4,375.9L340.4,375.9L341.4,375.9L342.4,375.9L343.4,375.9L344.4,375.9L345.4,375.9L346.4,375.9L347.4,375.9L348.4,375.9L349.4,375.9L350.4,375.8L351.4,375.8L352.4,375.8L353.4,375.8L354.4,375.8L355.4,375.7L356.4,375.7L357.4,375.7L358.4,375.7L359.4,375.6L360.4,375.6L361.4,375.6L362.4,375.5L363.4,375.5L364.4,375.5L365.4,375.5L366.4,375.4L367.4,375.4L368.4,375.3L369.4,375.3L370.4,375.2L371.4,375.2L372.4,375.1L373.4,375.0L374.4,374.9L375.4,374.8L376.4,374.7L377.4,374.6L378.4,374.5L379.4,374.4L380.4,374.3L381.4,374.2L382.4,374.1L383.4,374.0L384.4,373.9L385.4,373.8L386.4,373.7L387.4,373.6L388.4,373.6L389.4,373.5L390.4,373.4L391.4,373.3L392.4,373.2L393.4,373.1L394.4,373.0L395.4,372.9L396.4,372.8L397.4,372.8L398.4,372.7L399.4,372.6L400.4,372.5L401.4,372.4L402.4,372.3L403.4,372.2L404.4,372.1L404.7,372.1" fill="none" stroke="#3ca7c2" stroke-width="1.4"/>
<path d="M460.3,343.9L461.3,343.5L462.3,343.0L463.3,342.6L464.3,342.3L465.3,341.9L466.3,341.6L467.3,341.4L468.3,341.1L469.3,341.0L470.3,340.8L471.3,340.7L472.3,340.7L473.3,340.7L474.3,340.8L475.3,340.9L476.3,341.0L477.3,341.2L478.3,341.4L479.3,341.6L480.3,341.8L481.3,342.0L482.3,342.2L483.3,342.4L484.3,342.6L485.3,342.8L486.3,343.0L487.3,343.1L488.3,343.2L489.3,343.3L490.3,343.4L491.3,343.5L492.3,343.6L493.3,343.7L494.3,343.7L495.3,343.8L496.3,343.9L497.3,343.9L498.3,344.0L499.3,344.1L500.3,344.1L501.3,344.2L502.3,344.2L503.3,344.3L504.3,344.3L505.3,344.4L506.3,344.5L507.3,344.5L508.3,344.6L509.3,344.6L510.3,344.7L511.3,344.7L512.3,344.8L513.3,344.9L514.3,344.9L515.3,345.0L516.3,345.1L517.3,345.1L518.3,345.2L519.3,345.3L520.3,345.4L521.3,345.4L522.3,345.5L523.3,345.6L524.3,345.7L525.3,345.7L526.3,345.8L527.3,345.9L528.3,346.0L529.3,346.1L530.3,346.1L531.3,346.2L532.3,346.3L533.3,346.4L534.3,346.5L535.3,346.5L536.3,346.6L537.3,346.7L538.3,346.8L539.3,346.9L540.3,347.0L541.3,347.1L542.3,347.1L543.3,347.2L544.3,347.3L545.3,347.4L545.3,405.6L544.3,405.6L543.3,405.6L542.3,405.6L541.3,405.6L540.3,405.6L539.3,405.6L538.3,405.6L537.3,405.6L536.3,405.6L535.3,405.6L534.3,405.6L533.3,405.6L532.3,405.6L531.3,405.6L530.3,405.6L529.3,405.6L528.3,405.6L527.3,405.6L526.3,405.6L525.3,405.5L524.3,405.5L523.3,405.5L522.3,405.5L521.3,405.5L520.3,405.5L519.3,405.5L518.3,405.5L517.3,405.5L516.3,405.5L515.3,405.5L514.3,405.5L513.3,405.5L512.3,405.4L511.3,405.4L510.3,405.4L509.3,405.4L508.3,405.4L507.3,405.3L506.3,405.3L505.3,405.3L504.3,405.3L503.3,405.3L502.3,405.2L501.3,405.2L500.3,405.2L499.3,405.2L498.3,405.1L497.3,405.1L496.3,405.1L495.3,405.1L494.3,405.1L493.3,405.0L492.3,405.0L491.3,405.0L490.3,405.0L489.3,405.0L488.3,405.0L487.3,405.0L486.3,405.0L485.3,405.0L484.3,405.0L483.3,405.0L482.3,405.0L481.3,405.0L480.3,405.0L479.3,405.0L478.3,405.0L477.3,405.0L476.3,405.0L475.3,405.0L474.3,405.0L473.3,405.0L472.3,405.0L471.3,405.1L470.3,405.1L469.3,405.1L468.3,405.1L467.3,405.1L466.3,405.1L465.3,405.1L464.3,405.1L463.3,405.1L462.3,405.2L461.3,405.2L460.3,405.2Z" fill="#c6deae"/>
<path d="M460.3,377.3L461.3,377.1L462.3,376.9L463.3,376.7L464.3,376.5L465.3,376.3L466.3,376.1L467.3,375.9L468.3,375.7L469.3,375.5L470.3,375.3L471.3,375.1L472.3,374.8L473.3,374.6L474.3,374.4L475.3,374.2L476.3,374.0L477.3,373.8L478.3,373.6L479.3,373.4L480.3,373.2L481.3,373.0L482.3,372.8L483.3,372.6L484.3,372.4L485.3,372.1L486.3,371.9L487.3,371.7L488.3,371.4L489.3,371.1L490.3,370.8L491.3,370.5L492.3,370.2L493.3,369.9L494.3,369.6L495.3,369.3L496.3,368.9L497.3,368.6L498.3,368.3L499.3,367.9L500.3,367.5L501.3,367.2L502.3,366.8L503.3,366.4L504.3,366.0L505.3,365.6L506.3,365.2L507.3,364.8L508.3,364.4L509.3,364.0L510.3,363.6L511.3,363.2L512.3,362.8L513.3,362.4L514.3,361.9L515.3,361.5L516.3,361.1L517.3,360.7L518.3,360.3L519.3,359.8L520.3,359.4L521.3,358.9L522.3,358.4L523.3,357.9L524.3,357.5L525.3,357.0L526.3,356.5L527.3,356.0L528.3,355.5L529.3,355.0L530.3,354.5L531.3,354.0L532.3,353.6L533.3,353.1L534.3,352.6L535.3,352.1L536.3,351.7L537.3,351.2L538.3,350.7L539.3,350.2L540.3,349.8L541.3,349.3L542.3,348.8L543.3,348.3L544.3,347.9L545.3,347.4L545.3,405.8L544.3,406.0L543.3,406.2L542.3,406.3L541.3,406.5L540.3,406.7L539.3,406.9L538.3,407.1L537.3,407.2L536.3,407.4L535.3,407.6L534.3,407.7L533.3,407.9L532.3,408.1L531.3,408.2L530.3,408.4L529.3,408.6L528.3,408.7L527.3,408.9L526.3,409.1L525.3,409.2L524.3,409.4L523.3,409.5L522.3,409.7L521.3,409.8L520.3,410.0L519.3,410.1L518.3,410.3L517.3,410.4L516.3,410.6L515.3,410.7L514.3,410.9L513.3,411.0L512.3,411.1L511.3,411.3L510.3,411.4L509.3,411.5L508.3,411.7L507.3,411.8L506.3,411.9L505.3,412.1L504.3,412.2L503.3,412.3L502.3,412.5L501.3,412.6L500.3,412.7L499.3,412.8L498.3,413.0L497.3,413.1L496.3,413.2L495.3,413.3L494.3,413.4L493.3,413.6L492.3,413.7L491.3,413.8L490.3,413.9L489.3,414.0L488.3,414.2L487.3,414.3L486.3,414.4L485.3,414.5L484.3,414.6L483.3,414.7L482.3,414.8L481.3,415.0L480.3,415.1L479.3,415.2L478.3,415.3L477.3,415.4L476.3,415.5L475.3,415.6L474.3,415.7L473.3,415.8L472.3,416.0L471.3,416.1L470.3,416.2L469.3,416.3L468.3,416.4L467.3,416.5L466.3,416.6L465.3,416.7L464.3,416.8L463.3,416.9L462.3,417.0L461.3,417.1L460.3,417.2Z" fill="#92d1e7"/>
<clipPath id="c44"><path d="M460.3,343.9L461.3,343.5L462.3,343.0L463.3,342.6L464.3,342.3L465.3,341.9L466.3,341.6L467.3,341.4L468.3,341.1L469.3,341.0L470.3,340.8L471.3,340.7L472.3,340.7L473.3,340.7L474.3,340.8L475.3,340.9L476.3,341.0L477.3,341.2L478.3,341.4L479.3,341.6L480.3,341.8L481.3,342.0L482.3,342.2L483.3,342.4L484.3,342.6L485.3,342.8L486.3,343.0L487.3,343.1L488.3,343.2L489.3,343.3L490.3,343.4L491.3,343.5L492.3,343.6L493.3,343.7L494.3,343.7L495.3,343.8L496.3,343.9L497.3,343.9L498.3,344.0L499.3,344.1L500.3,344.1L501.3,344.2L502.3,344.2L503.3,344.3L504.3,344.3L505.3,344.4L506.3,344.5L507.3,344.5L508.3,344.6L509.3,344.6L510.3,344.7L511.3,344.7L512.3,344.8L513.3,344.9L514.3,344.9L515.3,345.0L516.3,345.1L517.3,345.1L518.3,345.2L519.3,345.3L520.3,345.4L521.3,345.4L522.3,345.5L523.3,345.6L524.3,345.7L525.3,345.7L526.3,345.8L527.3,345.9L528.3,346.0L529.3,346.1L530.3,346.1L531.3,346.2L532.3,346.3L533.3,346.4L534.3,346.5L535.3,346.5L536.3,346.6L537.3,346.7L538.3,346.8L539.3,346.9L540.3,347.0L541.3,347.1L542.3,347.1L543.3,347.2L544.3,347.3L545.3,347.4L545.3,405.6L544.3,405.6L543.3,405.6L542.3,405.6L541.3,405.6L540.3,405.6L539.3,405.6L538.3,405.6L537.3,405.6L536.3,405.6L535.3,405.6L534.3,405.6L533.3,405.6L532.3,405.6L531.3,405.6L530.3,405.6L529.3,405.6L528.3,405.6L527.3,405.6L526.3,405.6L525.3,405.5L524.3,405.5L523.3,405.5L522.3,405.5L521.3,405.5L520.3,405.5L519.3,405.5L518.3,405.5L517.3,405.5L516.3,405.5L515.3,405.5L514.3,405.5L513.3,405.5L512.3,405.4L511.3,405.4L510.3,405.4L509.3,405.4L508.3,405.4L507.3,405.3L506.3,405.3L505.3,405.3L504.3,405.3L503.3,405.3L502.3,405.2L501.3,405.2L500.3,405.2L499.3,405.2L498.3,405.1L497.3,405.1L496.3,405.1L495.3,405.1L494.3,405.1L493.3,405.0L492.3,405.0L491.3,405.0L490.3,405.0L489.3,405.0L488.3,405.0L487.3,405.0L486.3,405.0L485.3,405.0L484.3,405.0L483.3,405.0L482.3,405.0L481.3,405.0L480.3,405.0L479.3,405.0L478.3,405.0L477.3,405.0L476.3,405.0L475.3,405.0L474.3,405.0L473.3,405.0L472.3,405.0L471.3,405.1L470.3,405.1L469.3,405.1L468.3,405.1L467.3,405.1L466.3,405.1L465.3,405.1L464.3,405.1L463.3,405.1L462.3,405.2L461.3,405.2L460.3,405.2Z"/></clipPath>
<path d="M460.3,377.3L461.3,377.1L462.3,376.9L463.3,376.7L464.3,376.5L465.3,376.3L466.3,376.1L467.3,375.9L468.3,375.7L469.3,375.5L470.3,375.3L471.3,375.1L472.3,374.8L473.3,374.6L474.3,374.4L475.3,374.2L476.3,374.0L477.3,373.8L478.3,373.6L479.3,373.4L480.3,373.2L481.3,373.0L482.3,372.8L483.3,372.6L484.3,372.4L485.3,372.1L486.3,371.9L487.3,371.7L488.3,371.4L489.3,371.1L490.3,370.8L491.3,370.5L492.3,370.2L493.3,369.9L494.3,369.6L495.3,369.3L496.3,368.9L497.3,368.6L498.3,368.3L499.3,367.9L500.3,367.5L501.3,367.2L502.3,366.8L503.3,366.4L504.3,366.0L505.3,365.6L506.3,365.2L507.3,364.8L508.3,364.4L509.3,364.0L510.3,363.6L511.3,363.2L512.3,362.8L513.3,362.4L514.3,361.9L515.3,361.5L516.3,361.1L517.3,360.7L518.3,360.3L519.3,359.8L520.3,359.4L521.3,358.9L522.3,358.4L523.3,357.9L524.3,357.5L525.3,357.0L526.3,356.5L527.3,356.0L528.3,355.5L529.3,355.0L530.3,354.5L531.3,354.0L532.3,353.6L533.3,353.1L534.3,352.6L535.3,352.1L536.3,351.7L537.3,351.2L538.3,350.7L539.3,350.2L540.3,349.8L541.3,349.3L542.3,348.8L543.3,348.3L544.3,347.9L545.3,347.4L545.3,405.8L544.3,406.0L543.3,406.2L542.3,406.3L541.3,406.5L540.3,406.7L539.3,406.9L538.3,407.1L537.3,407.2L536.3,407.4L535.3,407.6L534.3,407.7L533.3,407.9L532.3,408.1L531.3,408.2L530.3,408.4L529.3,408.6L528.3,408.7L527.3,408.9L526.3,409.1L525.3,409.2L524.3,409.4L523.3,409.5L522.3,409.7L521.3,409.8L520.3,410.0L519.3,410.1L518.3,410.3L517.3,410.4L516.3,410.6L515.3,410.7L514.3,410.9L513.3,411.0L512.3,411.1L511.3,411.3L510.3,411.4L509.3,411.5L508.3,411.7L507.3,411.8L506.3,411.9L505.3,412.1L504.3,412.2L503.3,412.3L502.3,412.5L501.3,412.6L500.3,412.7L499.3,412.8L498.3,413.0L497.3,413.1L496.3,413.2L495.3,413.3L494.3,413.4L493.3,413.6L492.3,413.7L491.3,413.8L490.3,413.9L489.3,414.0L488.3,414.2L487.3,414.3L486.3,414.4L485.3,414.5L484.3,414.6L483.3,414.7L482.3,414.8L481.3,415.0L480.3,415.1L479.3,415.2L478.3,415.3L477.3,415.4L476.3,415.5L475.3,415.6L474.3,415.7L473.3,415.8L472.3,416.0L471.3,416.1L470.3,416.2L469.3,416.3L468.3,416.4L467.3,416.5L466.3,416.6L465.3,416.7L464.3,416.8L463.3,416.9L462.3,417.0L461.3,417.1L460.3,417.2Z" fill="#78c3b4" clip-path="url(#c44)"/>
<path d="M460.3,381.7L461.3,381.5L462.3,381.4L463.3,381.2L464.3,381.0L465.3,380.9L466.3,380.7L467.3,380.6L468.3,380.5L469.3,380.4L470.3,380.3L471.3,380.2L472.3,380.2L473.3,380.2L474.3,380.2L475.3,380.2L476.3,380.2L477.3,380.2L478.3,380.3L479.3,380.3L480.3,380.3L481.3,380.4L482.3,380.4L483.3,380.4L484.3,380.5L485.3,380.5L486.3,380.6L487.3,380.6L488.3,380.7L489.3,380.7L490.3,380.8L491.3,380.8L492.3,380.9L493.3,380.9L494.3,381.0L495.3,381.1L496.3,381.1L497.3,381.2L498.3,381.3L499.3,381.3L500.3,381.4L501.3,381.5L502.3,381.5L503.3,381.6L504.3,381.7L505.3,381.7L506.3,381.8L507.3,381.9L508.3,382.0L509.3,382.0L510.3,382.1L511.3,382.2L512.3,382.2L513.3,382.3L514.3,382.3L515.3,382.4L516.3,382.5L517.3,382.5L518.3,382.6L519.3,382.6L520.3,382.7L521.3,382.8L522.3,382.8L523.3,382.9L524.3,383.0L525.3,383.0L526.3,383.1L527.3,383.2L528.3,383.2L529.3,383.3L530.3,383.4L531.3,383.4L532.3,383.5L533.3,383.6L534.3,383.6L535.3,383.7L536.3,383.8L537.3,383.8L538.3,383.9L539.3,384.0L540.3,384.0L541.3,384.1L542.3,384.2L543.3,384.3L544.3,384.3L545.3,384.4" fill="none" stroke="#76b95a" stroke-width="1.2"/>
<path d="M460.3,401.0L461.3,400.8L462.3,400.7L463.3,400.5L464.3,400.4L465.3,400.2L466.3,400.1L467.3,399.9L468.3,399.8L469.3,399.6L470.3,399.5L471.3,399.4L472.3,399.2L473.3,399.1L474.3,399.0L475.3,398.8L476.3,398.7L477.3,398.6L478.3,398.5L479.3,398.4L480.3,398.2L481.3,398.1L482.3,398.0L483.3,397.9L484.3,397.8L485.3,397.6L486.3,397.5L487.3,397.4L488.3,397.2L489.3,397.1L490.3,397.0L491.3,396.8L492.3,396.7L493.3,396.5L494.3,396.4L495.3,396.3L496.3,396.1L497.3,396.0L498.3,395.8L499.3,395.6L500.3,395.5L501.3,395.3L502.3,395.1L503.3,395.0L504.3,394.8L505.3,394.6L506.3,394.5L507.3,394.3L508.3,394.1L509.3,393.9L510.3,393.7L511.3,393.5L512.3,393.3L513.3,393.1L514.3,392.9L515.3,392.7L516.3,392.5L517.3,392.3L518.3,392.1L519.3,391.8L520.3,391.6L521.3,391.3L522.3,391.1L523.3,390.8L524.3,390.5L525.3,390.2L526.3,390.0L527.3,389.7L528.3,389.4L529.3,389.1L530.3,388.8L531.3,388.5L532.3,388.2L533.3,387.9L534.3,387.6L535.3,387.3L536.3,387.0L537.3,386.7L538.3,386.4L539.3,386.0L540.3,385.7L541.3,385.4L542.3,385.0L543.3,384.7L544.3,384.3L545.3,384.0" fill="none" stroke="#3ca7c2" stroke-width="1.4"/>
<path d="M35.60,17.60V133.00H124.60" fill="none" stroke="#3c3c3c" stroke-width="1.2"/>
<path d="M31.60,133.00H35.60" stroke="#3c3c3c" stroke-width="1.2"/>
<text x="29.40" y="136.20" font-size="8.6" text-anchor="end" font-weight="normal" fill="#1f1f1f" stroke="#1f1f1f" stroke-width="0.12" textLength="3.92" lengthAdjust="spacingAndGlyphs">0</text>
<path d="M31.60,109.92H35.60" stroke="#3c3c3c" stroke-width="1.2"/>
<text x="29.40" y="113.12" font-size="8.6" text-anchor="end" font-weight="normal" fill="#1f1f1f" stroke="#1f1f1f" stroke-width="0.12" textLength="10.19" lengthAdjust="spacingAndGlyphs">0·5</text>
<path d="M31.60,86.84H35.60" stroke="#3c3c3c" stroke-width="1.2"/>
<text x="29.40" y="90.04" font-size="8.6" text-anchor="end" font-weight="normal" fill="#1f1f1f" stroke="#1f1f1f" stroke-width="0.12" textLength="10.19" lengthAdjust="spacingAndGlyphs">1·0</text>
<path d="M31.60,63.76H35.60" stroke="#3c3c3c" stroke-width="1.2"/>
<text x="29.40" y="66.96" font-size="8.6" text-anchor="end" font-weight="normal" fill="#1f1f1f" stroke="#1f1f1f" stroke-width="0.12" textLength="10.19" lengthAdjust="spacingAndGlyphs">1·5</text>
<path d="M31.60,40.68H35.60" stroke="#3c3c3c" stroke-width="1.2"/>
<text x="29.40" y="43.88" font-size="8.6" text-anchor="end" font-weight="normal" fill="#1f1f1f" stroke="#1f1f1f" stroke-width="0.12" textLength="10.19" lengthAdjust="spacingAndGlyphs">2·0</text>
<path d="M31.60,17.60H35.60" stroke="#3c3c3c" stroke-width="1.2"/>
<text x="29.40" y="20.80" font-size="8.6" text-anchor="end" font-weight="normal" fill="#1f1f1f" stroke="#1f1f1f" stroke-width="0.12" textLength="10.19" lengthAdjust="spacingAndGlyphs">2·5</text>
<path d="M35.60,133.00V137.20" stroke="#3c3c3c" stroke-width="1.2"/>
<path d="M50.43,133.00V137.20" stroke="#3c3c3c" stroke-width="1.2"/>
<path d="M65.27,133.00V137.20" stroke="#3c3c3c" stroke-width="1.2"/>
<path d="M80.10,133.00V137.20" stroke="#3c3c3c" stroke-width="1.2"/>
<path d="M94.93,133.00V137.20" stroke="#3c3c3c" stroke-width="1.2"/>
<path d="M109.77,133.00V137.20" stroke="#3c3c3c" stroke-width="1.2"/>
<path d="M124.60,133.00V137.20" stroke="#3c3c3c" stroke-width="1.2"/>
<path d="M177.80,17.60V133.00H266.80" fill="none" stroke="#3c3c3c" stroke-width="1.2"/>
<path d="M173.80,133.00H177.80" stroke="#3c3c3c" stroke-width="1.2"/>
<text x="171.60" y="136.20" font-size="8.6" text-anchor="end" font-weight="normal" fill="#1f1f1f" stroke="#1f1f1f" stroke-width="0.12" textLength="3.92" lengthAdjust="spacingAndGlyphs">0</text>
<path d="M173.80,116.51H177.80" stroke="#3c3c3c" stroke-width="1.2"/>
<text x="171.60" y="119.71" font-size="8.6" text-anchor="end" font-weight="normal" fill="#1f1f1f" stroke="#1f1f1f" stroke-width="0.12" textLength="7.84" lengthAdjust="spacingAndGlyphs">20</text>
<path d="M173.80,100.03H177.80" stroke="#3c3c3c" stroke-width="1.2"/>
<text x="171.60" y="103.23" font-size="8.6" text-anchor="end" font-weight="normal" fill="#1f1f1f" stroke="#1f1f1f" stroke-width="0.12" textLength="7.84" lengthAdjust="spacingAndGlyphs">40</text>
<path d="M173.80,83.54H177.80" stroke="#3c3c3c" stroke-width="1.2"/>
<text x="171.60" y="86.74" font-size="8.6" text-anchor="end" font-weight="normal" fill="#1f1f1f" stroke="#1f1f1f" stroke-width="0.12" textLength="7.84" lengthAdjust="spacingAndGlyphs">60</text>
<path d="M173.80,67.06H177.80" stroke="#3c3c3c" stroke-width="1.2"/>
<text x="171.60" y="70.26" font-size="8.6" text-anchor="end" font-weight="normal" fill="#1f1f1f" stroke="#1f1f1f" stroke-width="0.12" textLength="7.84" lengthAdjust="spacingAndGlyphs">80</text>
<path d="M173.80,50.57H177.80" stroke="#3c3c3c" stroke-width="1.2"/>
<text x="171.60" y="53.77" font-size="8.6" text-anchor="end" font-weight="normal" fill="#1f1f1f" stroke="#1f1f1f" stroke-width="0.12" textLength="11.76" lengthAdjust="spacingAndGlyphs">100</text>
<path d="M173.80,34.09H177.80" stroke="#3c3c3c" stroke-width="1.2"/>
<text x="171.60" y="37.29" font-size="8.6" text-anchor="end" font-weight="normal" fill="#1f1f1f" stroke="#1f1f1f" stroke-width="0.12" textLength="11.76" lengthAdjust="spacingAndGlyphs">120</text>
<path d="M173.80,17.60H177.80" stroke="#3c3c3c" stroke-width="1.2"/>
<text x="171.60" y="20.80" font-size="8.6" text-anchor="end" font-weight="normal" fill="#1f1f1f" stroke="#1f1f1f" stroke-width="0.12" textLength="11.76" lengthAdjust="spacingAndGlyphs">140</text>
<path d="M177.80,133.00V137.20" stroke="#3c3c3c" stroke-width="1.2"/>
<path d="M192.63,133.00V137.20" stroke="#3c3c3c" stroke-width="1.2"/>
<path d="M207.47,133.00V137.20" stroke="#3c3c3c" stroke-width="1.2"/>
<path d="M222.30,133.00V137.20" stroke="#3c3c3c" stroke-width="1.2"/>
<path d="M237.13,133.00V137.20" stroke="#3c3c3c" stroke-width="1.2"/>
<path d="M251.97,133.00V137.20" stroke="#3c3c3c" stroke-width="1.2"/>
<path d="M266.80,133.00V137.20" stroke="#3c3c3c" stroke-width="1.2"/>
<path d="M319.40,17.60V133.00H408.40" fill="none" stroke="#3c3c3c" stroke-width="1.2"/>
<path d="M315.40,133.00H319.40" stroke="#3c3c3c" stroke-width="1.2"/>
<text x="313.20" y="136.20" font-size="8.6" text-anchor="end" font-weight="normal" fill="#1f1f1f" stroke="#1f1f1f" stroke-width="0.12" textLength="3.92" lengthAdjust="spacingAndGlyphs">0</text>
<path d="M315.40,118.58H319.40" stroke="#3c3c3c" stroke-width="1.2"/>
<text x="313.20" y="121.78" font-size="8.6" text-anchor="end" font-weight="normal" fill="#1f1f1f" stroke="#1f1f1f" stroke-width="0.12" textLength="3.92" lengthAdjust="spacingAndGlyphs">5</text>
<path d="M315.40,104.15H319.40" stroke="#3c3c3c" stroke-width="1.2"/>
<text x="313.20" y="107.35" font-size="8.6" text-anchor="end" font-weight="normal" fill="#1f1f1f" stroke="#1f1f1f" stroke-width="0.12" textLength="7.84" lengthAdjust="spacingAndGlyphs">10</text>
<path d="M315.40,89.72H319.40" stroke="#3c3c3c" stroke-width="1.2"/>
<text x="313.20" y="92.92" font-size="8.6" text-anchor="end" font-weight="normal" fill="#1f1f1f" stroke="#1f1f1f" stroke-width="0.12" textLength="7.84" lengthAdjust="spacingAndGlyphs">15</text>
<path d="M315.40,75.30H319.40" stroke="#3c3c3c" stroke-width="1.2"/>
<text x="313.20" y="78.50" font-size="8.6" text-anchor="end" font-weight="normal" fill="#1f1f1f" stroke="#1f1f1f" stroke-width="0.12" textLength="7.84" lengthAdjust="spacingAndGlyphs">20</text>
<path d="M315.40,60.88H319.40" stroke="#3c3c3c" stroke-width="1.2"/>
<text x="313.20" y="64.08" font-size="8.6" text-anchor="end" font-weight="normal" fill="#1f1f1f" stroke="#1f1f1f" stroke-width="0.12" textLength="7.84" lengthAdjust="spacingAndGlyphs">25</text>
<path d="M315.40,46.45H319.40" stroke="#3c3c3c" stroke-width="1.2"/>
<text x="313.20" y="49.65" font-size="8.6" text-anchor="end" font-weight="normal" fill="#1f1f1f" stroke="#1f1f1f" stroke-width="0.12" textLength="7.84" lengthAdjust="spacingAndGlyphs">30</text>
<path d="M315.40,32.02H319.40" stroke="#3c3c3c" stroke-width="1.2"/>
<text x="313.20" y="35.22" font-size="8.6" text-anchor="end" font-weight="normal" fill="#1f1f1f" stroke="#1f1f1f" stroke-width="0.12" textLength="7.84" lengthAdjust="spacingAndGlyphs">35</text>
<path d="M315.40,17.60H319.40" stroke="#3c3c3c" stroke-width="1.2"/>
<text x="313.20" y="20.80" font-size="8.6" text-anchor="end" font-weight="normal" fill="#1f1f1f" stroke="#1f1f1f" stroke-width="0.12" textLength="7.84" lengthAdjust="spacingAndGlyphs">40</text>
<path d="M319.40,133.00V137.20" stroke="#3c3c3c" stroke-width="1.2"/>
<path d="M334.23,133.00V137.20" stroke="#3c3c3c" stroke-width="1.2"/>
<path d="M349.07,133.00V137.20" stroke="#3c3c3c" stroke-width="1.2"/>
<path d="M363.90,133.00V137.20" stroke="#3c3c3c" stroke-width="1.2"/>
<path d="M378.73,133.00V137.20" stroke="#3c3c3c" stroke-width="1.2"/>
<path d="M393.57,133.00V137.20" stroke="#3c3c3c" stroke-width="1.2"/>
<path d="M408.40,133.00V137.20" stroke="#3c3c3c" stroke-width="1.2"/>
<path d="M460.30,17.60V133.00H549.30" fill="none" stroke="#3c3c3c" stroke-width="1.2"/>
<path d="M456.30,133.00H460.30" stroke="#3c3c3c" stroke-width="1.2"/>
<text x="454.10" y="136.20" font-size="8.6" text-anchor="end" font-weight="normal" fill="#1f1f1f" stroke="#1f1f1f" stroke-width="0.12" textLength="3.92" lengthAdjust="spacingAndGlyphs">0</text>
<path d="M456.30,75.30H460.30" stroke="#3c3c3c" stroke-width="1.2"/>
<text x="454.10" y="78.50" font-size="8.6" text-anchor="end" font-weight="normal" fill="#1f1f1f" stroke="#1f1f1f" stroke-width="0.12" textLength="3.92" lengthAdjust="spacingAndGlyphs">1</text>
<path d="M456.30,17.60H460.30" stroke="#3c3c3c" stroke-width="1.2"/>
<text x="454.10" y="20.80" font-size="8.6" text-anchor="end" font-weight="normal" fill="#1f1f1f" stroke="#1f1f1f" stroke-width="0.12" textLength="3.92" lengthAdjust="spacingAndGlyphs">2</text>
<path d="M460.30,133.00V137.20" stroke="#3c3c3c" stroke-width="1.2"/>
<path d="M475.13,133.00V137.20" stroke="#3c3c3c" stroke-width="1.2"/>
<path d="M489.97,133.00V137.20" stroke="#3c3c3c" stroke-width="1.2"/>
<path d="M504.80,133.00V137.20" stroke="#3c3c3c" stroke-width="1.2"/>
<path d="M519.63,133.00V137.20" stroke="#3c3c3c" stroke-width="1.2"/>
<path d="M534.47,133.00V137.20" stroke="#3c3c3c" stroke-width="1.2"/>
<path d="M549.30,133.00V137.20" stroke="#3c3c3c" stroke-width="1.2"/>
<path d="M35.60,174.00V289.60H124.60" fill="none" stroke="#3c3c3c" stroke-width="1.2"/>
<path d="M31.60,289.60H35.60" stroke="#3c3c3c" stroke-width="1.2"/>
<text x="29.40" y="292.80" font-size="8.6" text-anchor="end" font-weight="normal" fill="#1f1f1f" stroke="#1f1f1f" stroke-width="0.12" textLength="3.92" lengthAdjust="spacingAndGlyphs">0</text>
<path d="M31.60,251.07H35.60" stroke="#3c3c3c" stroke-width="1.2"/>
<text x="29.40" y="254.27" font-size="8.6" text-anchor="end" font-weight="normal" fill="#1f1f1f" stroke="#1f1f1f" stroke-width="0.12" textLength="7.84" lengthAdjust="spacingAndGlyphs">50</text>
<path d="M31.60,212.53H35.60" stroke="#3c3c3c" stroke-width="1.2"/>
<text x="29.40" y="215.73" font-size="8.6" text-anchor="end" font-weight="normal" fill="#1f1f1f" stroke="#1f1f1f" stroke-width="0.12" textLength="11.76" lengthAdjust="spacingAndGlyphs">100</text>
<path d="M31.60,174.00H35.60" stroke="#3c3c3c" stroke-width="1.2"/>
<text x="29.40" y="177.20" font-size="8.6" text-anchor="end" font-weight="normal" fill="#1f1f1f" stroke="#1f1f1f" stroke-width="0.12" textLength="11.76" lengthAdjust="spacingAndGlyphs">150</text>
<path d="M35.60,289.60V293.80" stroke="#3c3c3c" stroke-width="1.2"/>
<path d="M50.43,289.60V293.80" stroke="#3c3c3c" stroke-width="1.2"/>
<path d="M65.27,289.60V293.80" stroke="#3c3c3c" stroke-width="1.2"/>
<path d="M80.10,289.60V293.80" stroke="#3c3c3c" stroke-width="1.2"/>
<path d="M94.93,289.60V293.80" stroke="#3c3c3c" stroke-width="1.2"/>
<path d="M109.77,289.60V293.80" stroke="#3c3c3c" stroke-width="1.2"/>
<path d="M124.60,289.60V293.80" stroke="#3c3c3c" stroke-width="1.2"/>
<path d="M177.80,174.00V289.60H266.80" fill="none" stroke="#3c3c3c" stroke-width="1.2"/>
<path d="M173.80,289.60H177.80" stroke="#3c3c3c" stroke-width="1.2"/>
<text x="171.60" y="292.80" font-size="8.6" text-anchor="end" font-weight="normal" fill="#1f1f1f" stroke="#1f1f1f" stroke-width="0.12" textLength="3.92" lengthAdjust="spacingAndGlyphs">0</text>
<path d="M173.80,251.07H177.80" stroke="#3c3c3c" stroke-width="1.2"/>
<text x="171.60" y="254.27" font-size="8.6" text-anchor="end" font-weight="normal" fill="#1f1f1f" stroke="#1f1f1f" stroke-width="0.12" textLength="3.92" lengthAdjust="spacingAndGlyphs">5</text>
<path d="M173.80,212.53H177.80" stroke="#3c3c3c" stroke-width="1.2"/>
<text x="171.60" y="215.73" font-size="8.6" text-anchor="end" font-weight="normal" fill="#1f1f1f" stroke="#1f1f1f" stroke-width="0.12" textLength="7.84" lengthAdjust="spacingAndGlyphs">10</text>
<path d="M173.80,174.00H177.80" stroke="#3c3c3c" stroke-width="1.2"/>
<text x="171.60" y="177.20" font-size="8.6" text-anchor="end" font-weight="normal" fill="#1f1f1f" stroke="#1f1f1f" stroke-width="0.12" textLength="7.84" lengthAdjust="spacingAndGlyphs">15</text>
<path d="M177.80,289.60V293.80" stroke="#3c3c3c" stroke-width="1.2"/>
<path d="M192.63,289.60V293.80" stroke="#3c3c3c" stroke-width="1.2"/>
<path d="M207.47,289.60V293.80" stroke="#3c3c3c" stroke-width="1.2"/>
<path d="M222.30,289.60V293.80" stroke="#3c3c3c" stroke-width="1.2"/>
<path d="M237.13,289.60V293.80" stroke="#3c3c3c" stroke-width="1.2"/>
<path d="M251.97,289.60V293.80" stroke="#3c3c3c" stroke-width="1.2"/>
<path d="M266.80,289.60V293.80" stroke="#3c3c3c" stroke-width="1.2"/>
<path d="M319.40,173.60V289.60H408.40" fill="none" stroke="#3c3c3c" stroke-width="1.2"/>
<path d="M315.40,289.60H319.40" stroke="#3c3c3c" stroke-width="1.2"/>
<text x="313.20" y="292.80" font-size="8.6" text-anchor="end" font-weight="normal" fill="#1f1f1f" stroke="#1f1f1f" stroke-width="0.12" textLength="3.92" lengthAdjust="spacingAndGlyphs">0</text>
<path d="M315.40,263.90H319.40" stroke="#3c3c3c" stroke-width="1.2"/>
<text x="313.20" y="267.10" font-size="8.6" text-anchor="end" font-weight="normal" fill="#1f1f1f" stroke="#1f1f1f" stroke-width="0.12" textLength="11.76" lengthAdjust="spacingAndGlyphs">500</text>
<path d="M315.40,238.20H319.40" stroke="#3c3c3c" stroke-width="1.2"/>
<text x="313.20" y="241.40" font-size="8.6" text-anchor="end" font-weight="normal" fill="#1f1f1f" stroke="#1f1f1f" stroke-width="0.12" textLength="15.69" lengthAdjust="spacingAndGlyphs">1000</text>
<path d="M315.40,212.50H319.40" stroke="#3c3c3c" stroke-width="1.2"/>
<text x="313.20" y="215.70" font-size="8.6" text-anchor="end" font-weight="normal" fill="#1f1f1f" stroke="#1f1f1f" stroke-width="0.12" textLength="15.69" lengthAdjust="spacingAndGlyphs">1500</text>
<path d="M315.40,186.80H319.40" stroke="#3c3c3c" stroke-width="1.2"/>
<text x="313.20" y="190.00" font-size="8.6" text-anchor="end" font-weight="normal" fill="#1f1f1f" stroke="#1f1f1f" stroke-width="0.12" textLength="15.69" lengthAdjust="spacingAndGlyphs">2000</text>
<path d="M319.40,289.60V293.80" stroke="#3c3c3c" stroke-width="1.2"/>
<path d="M334.23,289.60V293.80" stroke="#3c3c3c" stroke-width="1.2"/>
<path d="M349.07,289.60V293.80" stroke="#3c3c3c" stroke-width="1.2"/>
<path d="M363.90,289.60V293.80" stroke="#3c3c3c" stroke-width="1.2"/>
<path d="M378.73,289.60V293.80" stroke="#3c3c3c" stroke-width="1.2"/>
<path d="M393.57,289.60V293.80" stroke="#3c3c3c" stroke-width="1.2"/>
<path d="M408.40,289.60V293.80" stroke="#3c3c3c" stroke-width="1.2"/>
<path d="M460.30,174.00V289.60H549.30" fill="none" stroke="#3c3c3c" stroke-width="1.2"/>
<path d="M456.30,289.60H460.30" stroke="#3c3c3c" stroke-width="1.2"/>
<text x="454.10" y="292.80" font-size="8.6" text-anchor="end" font-weight="normal" fill="#1f1f1f" stroke="#1f1f1f" stroke-width="0.12" textLength="3.92" lengthAdjust="spacingAndGlyphs">0</text>
<path d="M456.30,260.70H460.30" stroke="#3c3c3c" stroke-width="1.2"/>
<text x="454.10" y="263.90" font-size="8.6" text-anchor="end" font-weight="normal" fill="#1f1f1f" stroke="#1f1f1f" stroke-width="0.12" textLength="7.84" lengthAdjust="spacingAndGlyphs">50</text>
<path d="M456.30,231.80H460.30" stroke="#3c3c3c" stroke-width="1.2"/>
<text x="454.10" y="235.00" font-size="8.6" text-anchor="end" font-weight="normal" fill="#1f1f1f" stroke="#1f1f1f" stroke-width="0.12" textLength="11.76" lengthAdjust="spacingAndGlyphs">100</text>
<path d="M456.30,202.90H460.30" stroke="#3c3c3c" stroke-width="1.2"/>
<text x="454.10" y="206.10" font-size="8.6" text-anchor="end" font-weight="normal" fill="#1f1f1f" stroke="#1f1f1f" stroke-width="0.12" textLength="11.76" lengthAdjust="spacingAndGlyphs">150</text>
<path d="M456.30,174.00H460.30" stroke="#3c3c3c" stroke-width="1.2"/>
<text x="454.10" y="177.20" font-size="8.6" text-anchor="end" font-weight="normal" fill="#1f1f1f" stroke="#1f1f1f" stroke-width="0.12" textLength="11.76" lengthAdjust="spacingAndGlyphs">200</text>
<path d="M460.30,289.60V293.80" stroke="#3c3c3c" stroke-width="1.2"/>
<path d="M475.13,289.60V293.80" stroke="#3c3c3c" stroke-width="1.2"/>
<path d="M489.97,289.60V293.80" stroke="#3c3c3c" stroke-width="1.2"/>
<path d="M504.80,289.60V293.80" stroke="#3c3c3c" stroke-width="1.2"/>
<path d="M519.63,289.60V293.80" stroke="#3c3c3c" stroke-width="1.2"/>
<path d="M534.47,289.60V293.80" stroke="#3c3c3c" stroke-width="1.2"/>
<path d="M549.30,289.60V293.80" stroke="#3c3c3c" stroke-width="1.2"/>
<path d="M35.60,320.30V435.50H124.60" fill="none" stroke="#3c3c3c" stroke-width="1.2"/>
<path d="M31.60,435.50H35.60" stroke="#3c3c3c" stroke-width="1.2"/>
<text x="29.40" y="438.70" font-size="8.6" text-anchor="end" font-weight="normal" fill="#1f1f1f" stroke="#1f1f1f" stroke-width="0.12" textLength="3.92" lengthAdjust="spacingAndGlyphs">0</text>
<path d="M31.60,406.70H35.60" stroke="#3c3c3c" stroke-width="1.2"/>
<text x="29.40" y="409.90" font-size="8.6" text-anchor="end" font-weight="normal" fill="#1f1f1f" stroke="#1f1f1f" stroke-width="0.12" textLength="11.76" lengthAdjust="spacingAndGlyphs">250</text>
<path d="M31.60,377.90H35.60" stroke="#3c3c3c" stroke-width="1.2"/>
<text x="29.40" y="381.10" font-size="8.6" text-anchor="end" font-weight="normal" fill="#1f1f1f" stroke="#1f1f1f" stroke-width="0.12" textLength="11.76" lengthAdjust="spacingAndGlyphs">500</text>
<path d="M31.60,349.10H35.60" stroke="#3c3c3c" stroke-width="1.2"/>
<text x="29.40" y="352.30" font-size="8.6" text-anchor="end" font-weight="normal" fill="#1f1f1f" stroke="#1f1f1f" stroke-width="0.12" textLength="11.76" lengthAdjust="spacingAndGlyphs">750</text>
<path d="M31.60,320.30H35.60" stroke="#3c3c3c" stroke-width="1.2"/>
<text x="29.40" y="323.50" font-size="8.6" text-anchor="end" font-weight="normal" fill="#1f1f1f" stroke="#1f1f1f" stroke-width="0.12" textLength="15.69" lengthAdjust="spacingAndGlyphs">1000</text>
<path d="M35.60,435.50V439.70" stroke="#3c3c3c" stroke-width="1.2"/>
<path d="M50.43,435.50V439.70" stroke="#3c3c3c" stroke-width="1.2"/>
<path d="M65.27,435.50V439.70" stroke="#3c3c3c" stroke-width="1.2"/>
<path d="M80.10,435.50V439.70" stroke="#3c3c3c" stroke-width="1.2"/>
<path d="M94.93,435.50V439.70" stroke="#3c3c3c" stroke-width="1.2"/>
<path d="M109.77,435.50V439.70" stroke="#3c3c3c" stroke-width="1.2"/>
<path d="M124.60,435.50V439.70" stroke="#3c3c3c" stroke-width="1.2"/>
<text x="38.20" y="443.60" font-size="8.2" text-anchor="end" font-weight="normal" fill="#1f1f1f" stroke="#1f1f1f" stroke-width="0.12" textLength="17.40" lengthAdjust="spacingAndGlyphs" transform="rotate(-45 38.20 443.60)">1990</text>
<text x="53.03" y="443.60" font-size="8.2" text-anchor="end" font-weight="normal" fill="#1f1f1f" stroke="#1f1f1f" stroke-width="0.12" textLength="17.40" lengthAdjust="spacingAndGlyphs" transform="rotate(-45 53.03 443.60)">1995</text>
<text x="67.87" y="443.60" font-size="8.2" text-anchor="end" font-weight="normal" fill="#1f1f1f" stroke="#1f1f1f" stroke-width="0.12" textLength="17.40" lengthAdjust="spacingAndGlyphs" transform="rotate(-45 67.87 443.60)">2000</text>
<text x="82.70" y="443.60" font-size="8.2" text-anchor="end" font-weight="normal" fill="#1f1f1f" stroke="#1f1f1f" stroke-width="0.12" textLength="17.40" lengthAdjust="spacingAndGlyphs" transform="rotate(-45 82.70 443.60)">2005</text>
<text x="97.53" y="443.60" font-size="8.2" text-anchor="end" font-weight="normal" fill="#1f1f1f" stroke="#1f1f1f" stroke-width="0.12" textLength="17.40" lengthAdjust="spacingAndGlyphs" transform="rotate(-45 97.53 443.60)">2010</text>
<text x="112.37" y="443.60" font-size="8.2" text-anchor="end" font-weight="normal" fill="#1f1f1f" stroke="#1f1f1f" stroke-width="0.12" textLength="17.40" lengthAdjust="spacingAndGlyphs" transform="rotate(-45 112.37 443.60)">2015</text>
<text x="127.20" y="443.60" font-size="8.2" text-anchor="end" font-weight="normal" fill="#1f1f1f" stroke="#1f1f1f" stroke-width="0.12" textLength="17.40" lengthAdjust="spacingAndGlyphs" transform="rotate(-45 127.20 443.60)">2020</text>
<path d="M177.80,320.30V435.50H266.80" fill="none" stroke="#3c3c3c" stroke-width="1.2"/>
<path d="M173.80,435.50H177.80" stroke="#3c3c3c" stroke-width="1.2"/>
<text x="171.60" y="438.70" font-size="8.6" text-anchor="end" font-weight="normal" fill="#1f1f1f" stroke="#1f1f1f" stroke-width="0.12" textLength="3.92" lengthAdjust="spacingAndGlyphs">0</text>
<path d="M173.80,406.70H177.80" stroke="#3c3c3c" stroke-width="1.2"/>
<text x="171.60" y="409.90" font-size="8.6" text-anchor="end" font-weight="normal" fill="#1f1f1f" stroke="#1f1f1f" stroke-width="0.12" textLength="11.76" lengthAdjust="spacingAndGlyphs">500</text>
<path d="M173.80,377.90H177.80" stroke="#3c3c3c" stroke-width="1.2"/>
<text x="171.60" y="381.10" font-size="8.6" text-anchor="end" font-weight="normal" fill="#1f1f1f" stroke="#1f1f1f" stroke-width="0.12" textLength="15.69" lengthAdjust="spacingAndGlyphs">1000</text>
<path d="M173.80,349.10H177.80" stroke="#3c3c3c" stroke-width="1.2"/>
<text x="171.60" y="352.30" font-size="8.6" text-anchor="end" font-weight="normal" fill="#1f1f1f" stroke="#1f1f1f" stroke-width="0.12" textLength="15.69" lengthAdjust="spacingAndGlyphs">1500</text>
<path d="M173.80,320.30H177.80" stroke="#3c3c3c" stroke-width="1.2"/>
<text x="171.60" y="323.50" font-size="8.6" text-anchor="end" font-weight="normal" fill="#1f1f1f" stroke="#1f1f1f" stroke-width="0.12" textLength="15.69" lengthAdjust="spacingAndGlyphs">2000</text>
<path d="M177.80,435.50V439.70" stroke="#3c3c3c" stroke-width="1.2"/>
<path d="M192.63,435.50V439.70" stroke="#3c3c3c" stroke-width="1.2"/>
<path d="M207.47,435.50V439.70" stroke="#3c3c3c" stroke-width="1.2"/>
<path d="M222.30,435.50V439.70" stroke="#3c3c3c" stroke-width="1.2"/>
<path d="M237.13,435.50V439.70" stroke="#3c3c3c" stroke-width="1.2"/>
<path d="M251.97,435.50V439.70" stroke="#3c3c3c" stroke-width="1.2"/>
<path d="M266.80,435.50V439.70" stroke="#3c3c3c" stroke-width="1.2"/>
<text x="180.40" y="443.60" font-size="8.2" text-anchor="end" font-weight="normal" fill="#1f1f1f" stroke="#1f1f1f" stroke-width="0.12" textLength="17.40" lengthAdjust="spacingAndGlyphs" transform="rotate(-45 180.40 443.60)">1990</text>
<text x="195.23" y="443.60" font-size="8.2" text-anchor="end" font-weight="normal" fill="#1f1f1f" stroke="#1f1f1f" stroke-width="0.12" textLength="17.40" lengthAdjust="spacingAndGlyphs" transform="rotate(-45 195.23 443.60)">1995</text>
<text x="210.07" y="443.60" font-size="8.2" text-anchor="end" font-weight="normal" fill="#1f1f1f" stroke="#1f1f1f" stroke-width="0.12" textLength="17.40" lengthAdjust="spacingAndGlyphs" transform="rotate(-45 210.07 443.60)">2000</text>
<text x="224.90" y="443.60" font-size="8.2" text-anchor="end" font-weight="normal" fill="#1f1f1f" stroke="#1f1f1f" stroke-width="0.12" textLength="17.40" lengthAdjust="spacingAndGlyphs" transform="rotate(-45 224.90 443.60)">2005</text>
<text x="239.73" y="443.60" font-size="8.2" text-anchor="end" font-weight="normal" fill="#1f1f1f" stroke="#1f1f1f" stroke-width="0.12" textLength="17.40" lengthAdjust="spacingAndGlyphs" transform="rotate(-45 239.73 443.60)">2010</text>
<text x="254.57" y="443.60" font-size="8.2" text-anchor="end" font-weight="normal" fill="#1f1f1f" stroke="#1f1f1f" stroke-width="0.12" textLength="17.40" lengthAdjust="spacingAndGlyphs" transform="rotate(-45 254.57 443.60)">2015</text>
<text x="269.40" y="443.60" font-size="8.2" text-anchor="end" font-weight="normal" fill="#1f1f1f" stroke="#1f1f1f" stroke-width="0.12" textLength="17.40" lengthAdjust="spacingAndGlyphs" transform="rotate(-45 269.40 443.60)">2020</text>
<path d="M319.40,320.30V435.50H408.40" fill="none" stroke="#3c3c3c" stroke-width="1.2"/>
<path d="M315.40,435.50H319.40" stroke="#3c3c3c" stroke-width="1.2"/>
<text x="313.20" y="438.70" font-size="8.6" text-anchor="end" font-weight="normal" fill="#1f1f1f" stroke="#1f1f1f" stroke-width="0.12" textLength="11.76" lengthAdjust="spacingAndGlyphs">–10</text>
<path d="M315.40,416.30H319.40" stroke="#3c3c3c" stroke-width="1.2"/>
<text x="313.20" y="419.50" font-size="8.6" text-anchor="end" font-weight="normal" fill="#1f1f1f" stroke="#1f1f1f" stroke-width="0.12" textLength="7.84" lengthAdjust="spacingAndGlyphs">–5</text>
<path d="M315.40,397.10H319.40" stroke="#3c3c3c" stroke-width="1.2"/>
<text x="313.20" y="400.30" font-size="8.6" text-anchor="end" font-weight="normal" fill="#1f1f1f" stroke="#1f1f1f" stroke-width="0.12" textLength="3.92" lengthAdjust="spacingAndGlyphs">0</text>
<path d="M315.40,377.90H319.40" stroke="#3c3c3c" stroke-width="1.2"/>
<text x="313.20" y="381.10" font-size="8.6" text-anchor="end" font-weight="normal" fill="#1f1f1f" stroke="#1f1f1f" stroke-width="0.12" textLength="3.92" lengthAdjust="spacingAndGlyphs">5</text>
<path d="M315.40,358.70H319.40" stroke="#3c3c3c" stroke-width="1.2"/>
<text x="313.20" y="361.90" font-size="8.6" text-anchor="end" font-weight="normal" fill="#1f1f1f" stroke="#1f1f1f" stroke-width="0.12" textLength="7.84" lengthAdjust="spacingAndGlyphs">10</text>
<path d="M315.40,339.50H319.40" stroke="#3c3c3c" stroke-width="1.2"/>
<text x="313.20" y="342.70" font-size="8.6" text-anchor="end" font-weight="normal" fill="#1f1f1f" stroke="#1f1f1f" stroke-width="0.12" textLength="7.84" lengthAdjust="spacingAndGlyphs">15</text>
<path d="M315.40,320.30H319.40" stroke="#3c3c3c" stroke-width="1.2"/>
<text x="313.20" y="323.50" font-size="8.6" text-anchor="end" font-weight="normal" fill="#1f1f1f" stroke="#1f1f1f" stroke-width="0.12" textLength="7.84" lengthAdjust="spacingAndGlyphs">20</text>
<path d="M319.40,435.50V439.70" stroke="#3c3c3c" stroke-width="1.2"/>
<path d="M334.23,435.50V439.70" stroke="#3c3c3c" stroke-width="1.2"/>
<path d="M349.07,435.50V439.70" stroke="#3c3c3c" stroke-width="1.2"/>
<path d="M363.90,435.50V439.70" stroke="#3c3c3c" stroke-width="1.2"/>
<path d="M378.73,435.50V439.70" stroke="#3c3c3c" stroke-width="1.2"/>
<path d="M393.57,435.50V439.70" stroke="#3c3c3c" stroke-width="1.2"/>
<path d="M408.40,435.50V439.70" stroke="#3c3c3c" stroke-width="1.2"/>
<text x="322.00" y="443.60" font-size="8.2" text-anchor="end" font-weight="normal" fill="#1f1f1f" stroke="#1f1f1f" stroke-width="0.12" textLength="17.40" lengthAdjust="spacingAndGlyphs" transform="rotate(-45 322.00 443.60)">1990</text>
<text x="336.83" y="443.60" font-size="8.2" text-anchor="end" font-weight="normal" fill="#1f1f1f" stroke="#1f1f1f" stroke-width="0.12" textLength="17.40" lengthAdjust="spacingAndGlyphs" transform="rotate(-45 336.83 443.60)">1995</text>
<text x="351.67" y="443.60" font-size="8.2" text-anchor="end" font-weight="normal" fill="#1f1f1f" stroke="#1f1f1f" stroke-width="0.12" textLength="17.40" lengthAdjust="spacingAndGlyphs" transform="rotate(-45 351.67 443.60)">2000</text>
<text x="366.50" y="443.60" font-size="8.2" text-anchor="end" font-weight="normal" fill="#1f1f1f" stroke="#1f1f1f" stroke-width="0.12" textLength="17.40" lengthAdjust="spacingAndGlyphs" transform="rotate(-45 366.50 443.60)">2005</text>
<text x="381.33" y="443.60" font-size="8.2" text-anchor="end" font-weight="normal" fill="#1f1f1f" stroke="#1f1f1f" stroke-width="0.12" textLength="17.40" lengthAdjust="spacingAndGlyphs" transform="rotate(-45 381.33 443.60)">2010</text>
<text x="396.17" y="443.60" font-size="8.2" text-anchor="end" font-weight="normal" fill="#1f1f1f" stroke="#1f1f1f" stroke-width="0.12" textLength="17.40" lengthAdjust="spacingAndGlyphs" transform="rotate(-45 396.17 443.60)">2015</text>
<text x="411.00" y="443.60" font-size="8.2" text-anchor="end" font-weight="normal" fill="#1f1f1f" stroke="#1f1f1f" stroke-width="0.12" textLength="17.40" lengthAdjust="spacingAndGlyphs" transform="rotate(-45 411.00 443.60)">2020</text>
<path d="M460.30,320.30V435.50H549.30" fill="none" stroke="#3c3c3c" stroke-width="1.2"/>
<path d="M456.30,435.50H460.30" stroke="#3c3c3c" stroke-width="1.2"/>
<text x="454.10" y="438.70" font-size="8.6" text-anchor="end" font-weight="normal" fill="#1f1f1f" stroke="#1f1f1f" stroke-width="0.12" textLength="3.92" lengthAdjust="spacingAndGlyphs">0</text>
<path d="M456.30,397.10H460.30" stroke="#3c3c3c" stroke-width="1.2"/>
<text x="454.10" y="400.30" font-size="8.6" text-anchor="end" font-weight="normal" fill="#1f1f1f" stroke="#1f1f1f" stroke-width="0.12" textLength="7.84" lengthAdjust="spacingAndGlyphs">10</text>
<path d="M456.30,358.70H460.30" stroke="#3c3c3c" stroke-width="1.2"/>
<text x="454.10" y="361.90" font-size="8.6" text-anchor="end" font-weight="normal" fill="#1f1f1f" stroke="#1f1f1f" stroke-width="0.12" textLength="7.84" lengthAdjust="spacingAndGlyphs">20</text>
<path d="M456.30,320.30H460.30" stroke="#3c3c3c" stroke-width="1.2"/>
<text x="454.10" y="323.50" font-size="8.6" text-anchor="end" font-weight="normal" fill="#1f1f1f" stroke="#1f1f1f" stroke-width="0.12" textLength="7.84" lengthAdjust="spacingAndGlyphs">30</text>
<path d="M460.30,435.50V439.70" stroke="#3c3c3c" stroke-width="1.2"/>
<path d="M475.13,435.50V439.70" stroke="#3c3c3c" stroke-width="1.2"/>
<path d="M489.97,435.50V439.70" stroke="#3c3c3c" stroke-width="1.2"/>
<path d="M504.80,435.50V439.70" stroke="#3c3c3c" stroke-width="1.2"/>
<path d="M519.63,435.50V439.70" stroke="#3c3c3c" stroke-width="1.2"/>
<path d="M534.47,435.50V439.70" stroke="#3c3c3c" stroke-width="1.2"/>
<path d="M549.30,435.50V439.70" stroke="#3c3c3c" stroke-width="1.2"/>
<text x="462.90" y="443.60" font-size="8.2" text-anchor="end" font-weight="normal" fill="#1f1f1f" stroke="#1f1f1f" stroke-width="0.12" textLength="17.40" lengthAdjust="spacingAndGlyphs" transform="rotate(-45 462.90 443.60)">1990</text>
<text x="477.73" y="443.60" font-size="8.2" text-anchor="end" font-weight="normal" fill="#1f1f1f" stroke="#1f1f1f" stroke-width="0.12" textLength="17.40" lengthAdjust="spacingAndGlyphs" transform="rotate(-45 477.73 443.60)">1995</text>
<text x="492.57" y="443.60" font-size="8.2" text-anchor="end" font-weight="normal" fill="#1f1f1f" stroke="#1f1f1f" stroke-width="0.12" textLength="17.40" lengthAdjust="spacingAndGlyphs" transform="rotate(-45 492.57 443.60)">2000</text>
<text x="507.40" y="443.60" font-size="8.2" text-anchor="end" font-weight="normal" fill="#1f1f1f" stroke="#1f1f1f" stroke-width="0.12" textLength="17.40" lengthAdjust="spacingAndGlyphs" transform="rotate(-45 507.40 443.60)">2005</text>
<text x="522.23" y="443.60" font-size="8.2" text-anchor="end" font-weight="normal" fill="#1f1f1f" stroke="#1f1f1f" stroke-width="0.12" textLength="17.40" lengthAdjust="spacingAndGlyphs" transform="rotate(-45 522.23 443.60)">2010</text>
<text x="537.07" y="443.60" font-size="8.2" text-anchor="end" font-weight="normal" fill="#1f1f1f" stroke="#1f1f1f" stroke-width="0.12" textLength="17.40" lengthAdjust="spacingAndGlyphs" transform="rotate(-45 537.07 443.60)">2015</text>
<text x="551.90" y="443.60" font-size="8.2" text-anchor="end" font-weight="normal" fill="#1f1f1f" stroke="#1f1f1f" stroke-width="0.12" textLength="17.40" lengthAdjust="spacingAndGlyphs" transform="rotate(-45 551.90 443.60)">2020</text>
<text x="42.00" y="12.80" font-size="8.4" text-anchor="start" font-weight="normal" fill="#1f1f1f" stroke="#1f1f1f" stroke-width="0.12" textLength="72.00" lengthAdjust="spacingAndGlyphs">Total number of DALYs</text>
<text x="183.00" y="12.80" font-size="8.4" text-anchor="start" font-weight="normal" fill="#1f1f1f" stroke="#1f1f1f" stroke-width="0.12" textLength="74.60" lengthAdjust="spacingAndGlyphs">Total number of deaths</text>
<text x="333.60" y="12.80" font-size="8.4" text-anchor="start" font-weight="normal" fill="#1f1f1f" stroke="#1f1f1f" stroke-width="0.12" textLength="60.00" lengthAdjust="spacingAndGlyphs">Total rate of DALYs</text>
<text x="475.60" y="12.80" font-size="8.4" text-anchor="start" font-weight="normal" fill="#1f1f1f" stroke="#1f1f1f" stroke-width="0.12" textLength="61.40" lengthAdjust="spacingAndGlyphs">Total mortality rate</text>
<text x="51.80" y="159.00" font-size="8.4" text-anchor="start" font-weight="normal" fill="#1f1f1f" stroke="#1f1f1f" stroke-width="0.12" textLength="50.90" lengthAdjust="spacingAndGlyphs">Total number of</text>
<text x="53.90" y="168.30" font-size="8.4" text-anchor="start" font-weight="normal" fill="#1f1f1f" stroke="#1f1f1f" stroke-width="0.12" textLength="47.80" lengthAdjust="spacingAndGlyphs">prevalent cases</text>
<text x="198.20" y="159.00" font-size="8.4" text-anchor="start" font-weight="normal" fill="#1f1f1f" stroke="#1f1f1f" stroke-width="0.12" textLength="42.70" lengthAdjust="spacingAndGlyphs">Total number</text>
<text x="198.20" y="168.30" font-size="8.4" text-anchor="start" font-weight="normal" fill="#1f1f1f" stroke="#1f1f1f" stroke-width="0.12" textLength="44.00" lengthAdjust="spacingAndGlyphs">incident cases</text>
<text x="330.90" y="159.00" font-size="8.4" text-anchor="start" font-weight="normal" fill="#1f1f1f" stroke="#1f1f1f" stroke-width="0.12" textLength="65.80" lengthAdjust="spacingAndGlyphs">Total prevalence rate</text>
<text x="475.10" y="159.00" font-size="8.4" text-anchor="start" font-weight="normal" fill="#1f1f1f" stroke="#1f1f1f" stroke-width="0.12" textLength="61.80" lengthAdjust="spacingAndGlyphs">Total incidence rate</text>
<text x="44.30" y="315.00" font-size="8.4" text-anchor="start" font-weight="normal" fill="#1f1f1f" stroke="#1f1f1f" stroke-width="0.12" textLength="67.60" lengthAdjust="spacingAndGlyphs">Total number of YLDs</text>
<text x="187.00" y="315.00" font-size="8.4" text-anchor="start" font-weight="normal" fill="#1f1f1f" stroke="#1f1f1f" stroke-width="0.12" textLength="66.60" lengthAdjust="spacingAndGlyphs">Total number of YLLs</text>
<text x="336.40" y="315.00" font-size="8.4" text-anchor="start" font-weight="normal" fill="#1f1f1f" stroke="#1f1f1f" stroke-width="0.12" textLength="54.90" lengthAdjust="spacingAndGlyphs">Total rate of YLDs</text>
<text x="479.50" y="315.00" font-size="8.4" text-anchor="start" font-weight="normal" fill="#1f1f1f" stroke="#1f1f1f" stroke-width="0.12" textLength="53.80" lengthAdjust="spacingAndGlyphs">Total rate of YLLs</text>
<text x="22.80" y="6.90" font-size="9.2" text-anchor="start" font-weight="bold" fill="#1f1f1f" stroke="#1f1f1f" stroke-width="0.12">A</text>
<text x="307.50" y="7.10" font-size="9.2" text-anchor="start" font-weight="bold" fill="#1f1f1f" stroke="#1f1f1f" stroke-width="0.12">B</text>
<text x="6.20" y="75.10" font-size="8.0" text-anchor="middle" font-weight="normal" fill="#1f1f1f" stroke="#1f1f1f" stroke-width="0.04" textLength="87.20" lengthAdjust="spacingAndGlyphs" transform="rotate(-90 6.20 75.10)">Number of DALYs (million)</text>
<text x="148.70" y="76.00" font-size="8.0" text-anchor="middle" font-weight="normal" fill="#1f1f1f" stroke="#1f1f1f" stroke-width="0.04" textLength="94.80" lengthAdjust="spacingAndGlyphs" transform="rotate(-90 148.70 76.00)">Number of deaths (thousand)</text>
<text x="290.00" y="75.40" font-size="8.0" text-anchor="middle" font-weight="normal" fill="#1f1f1f" stroke="#1f1f1f" stroke-width="0.04" textLength="114.00" lengthAdjust="spacingAndGlyphs" transform="rotate(-90 290.00 75.40)">DALY rate (per 100 000 population)</text>
<text x="430.00" y="74.50" font-size="8.0" text-anchor="middle" font-weight="normal" fill="#1f1f1f" stroke="#1f1f1f" stroke-width="0.04" textLength="126.00" lengthAdjust="spacingAndGlyphs" transform="rotate(-90 430.00 74.50)">Mortality rate (per 100 000 population)</text>
<text x="6.70" y="231.30" font-size="8.0" text-anchor="middle" font-weight="normal" fill="#1f1f1f" stroke="#1f1f1f" stroke-width="0.04" textLength="113.40" lengthAdjust="spacingAndGlyphs" transform="rotate(-90 6.70 231.30)">Number of prevalent cases (million)</text>
<text x="148.70" y="232.00" font-size="8.0" text-anchor="middle" font-weight="normal" fill="#1f1f1f" stroke="#1f1f1f" stroke-width="0.04" textLength="113.10" lengthAdjust="spacingAndGlyphs" transform="rotate(-90 148.70 232.00)">Number of  incident cases (million)</text>
<text x="290.00" y="231.70" font-size="8.0" text-anchor="middle" font-weight="normal" fill="#1f1f1f" stroke="#1f1f1f" stroke-width="0.04" textLength="130.50" lengthAdjust="spacingAndGlyphs" transform="rotate(-90 290.00 231.70)">Prevalence rate (per 100 000 population)</text>
<text x="430.00" y="232.00" font-size="8.0" text-anchor="middle" font-weight="normal" fill="#1f1f1f" stroke="#1f1f1f" stroke-width="0.04" textLength="126.90" lengthAdjust="spacingAndGlyphs" transform="rotate(-90 430.00 232.00)">Incidence rate (per 100 000 population)</text>
<text x="6.70" y="376.50" font-size="8.0" text-anchor="middle" font-weight="normal" fill="#1f1f1f" stroke="#1f1f1f" stroke-width="0.04" textLength="93.90" lengthAdjust="spacingAndGlyphs" transform="rotate(-90 6.70 376.50)">Number of YLDs (thousand)</text>
<text x="148.70" y="377.20" font-size="8.0" text-anchor="middle" font-weight="normal" fill="#1f1f1f" stroke="#1f1f1f" stroke-width="0.04" textLength="92.40" lengthAdjust="spacingAndGlyphs" transform="rotate(-90 148.70 377.20)">Number of  YLLs (thousand)</text>
<text x="290.00" y="377.50" font-size="8.0" text-anchor="middle" font-weight="normal" fill="#1f1f1f" stroke="#1f1f1f" stroke-width="0.04" textLength="111.00" lengthAdjust="spacingAndGlyphs" transform="rotate(-90 290.00 377.50)">YLD rate (per 100 000 population)</text>
<text x="430.00" y="378.20" font-size="8.0" text-anchor="middle" font-weight="normal" fill="#1f1f1f" stroke="#1f1f1f" stroke-width="0.04" textLength="109.50" lengthAdjust="spacingAndGlyphs" transform="rotate(-90 430.00 378.20)">YLL rate (per 100 000 population)</text>
<text x="78.10" y="468.20" font-size="8.8" text-anchor="middle" font-weight="normal" fill="#1f1f1f" stroke="#1f1f1f" stroke-width="0.12" textLength="13.60" lengthAdjust="spacingAndGlyphs">Year</text>
<text x="217.90" y="468.20" font-size="8.8" text-anchor="middle" font-weight="normal" fill="#1f1f1f" stroke="#1f1f1f" stroke-width="0.12" textLength="13.60" lengthAdjust="spacingAndGlyphs">Year</text>
<text x="361.50" y="468.20" font-size="8.8" text-anchor="middle" font-weight="normal" fill="#1f1f1f" stroke="#1f1f1f" stroke-width="0.12" textLength="13.60" lengthAdjust="spacingAndGlyphs">Year</text>
<text x="502.50" y="468.20" font-size="8.8" text-anchor="middle" font-weight="normal" fill="#1f1f1f" stroke="#1f1f1f" stroke-width="0.12" textLength="13.60" lengthAdjust="spacingAndGlyphs">Year</text>
<path d="M325.3,114.6H338.1" stroke="#3ca7c2" stroke-width="1.3"/>
<path d="M325.3,124.1H338.1" stroke="#76b95a" stroke-width="1.3"/>
<text x="340.70" y="117.30" font-size="7.8" text-anchor="start" font-weight="normal" fill="#1f1f1f" stroke="#1f1f1f" stroke-width="0.12" textLength="25.70" lengthAdjust="spacingAndGlyphs">All-ages</text>
<text x="340.70" y="126.80" font-size="7.8" text-anchor="start" font-weight="normal" fill="#1f1f1f" stroke="#1f1f1f" stroke-width="0.12" textLength="56.60" lengthAdjust="spacingAndGlyphs">Age-standardised</text>
</svg>
</body></html>
